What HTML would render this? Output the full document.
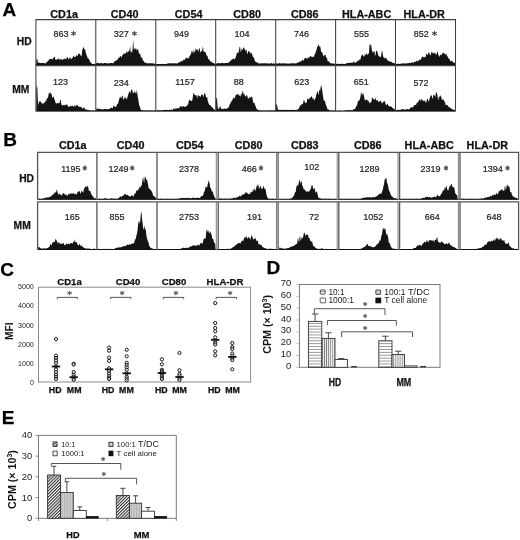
<!DOCTYPE html>
<html><head><meta charset="utf-8"><title>Figure</title>
<style>
html,body{margin:0;padding:0;background:#fff;}
svg{display:block;font-family:"Liberation Sans", sans-serif;}
</style></head>
<body>
<svg width="520" height="540" viewBox="0 0 520 540">
<rect width="520" height="540" fill="#fff"/>
<path d="M36.3 64.8L36.3 60.2L36.8 59.2L37.3 58.4L37.8 62.4L38.3 62.6L38.8 62.7L39.3 62.6L39.8 63.0L40.3 63.3L40.8 62.9L41.3 63.0L41.8 62.8L42.3 62.9L42.8 62.9L43.3 62.8L43.8 62.9L44.3 63.4L44.8 62.9L45.3 63.3L45.8 63.4L46.3 62.7L46.8 61.7L47.3 61.4L47.8 61.6L48.3 61.1L48.8 59.6L49.3 59.5L49.8 58.9L50.3 58.8L50.8 59.3L51.3 58.9L51.8 59.0L52.3 60.0L52.8 58.6L53.3 57.6L53.8 58.2L54.3 56.8L54.8 56.8L55.3 59.3L55.8 59.9L56.3 59.8L56.8 59.6L57.3 59.2L57.8 59.1L58.3 58.2L58.8 58.7L59.3 60.0L59.8 59.4L60.3 59.5L60.8 58.6L61.3 58.9L61.8 59.9L62.3 59.4L62.8 60.0L63.3 59.3L63.8 58.8L64.3 58.8L64.8 58.8L65.3 58.5L65.8 59.5L66.3 58.9L66.8 57.6L67.3 56.7L67.8 57.5L68.3 59.1L68.8 59.6L69.3 58.6L69.8 57.4L70.3 57.2L70.8 58.4L71.3 59.6L71.8 58.4L72.3 57.6L72.8 57.9L73.3 55.9L73.8 56.0L74.3 56.7L74.8 57.2L75.3 56.9L75.8 56.6L76.3 56.0L76.8 54.5L77.3 56.1L77.8 55.8L78.3 53.5L78.8 53.7L79.3 53.8L79.8 54.1L80.3 54.6L80.8 56.1L81.3 56.6L81.8 54.4L82.3 49.6L82.8 48.7L83.3 47.6L83.8 47.0L84.3 49.2L84.8 49.5L85.3 49.8L85.8 52.9L86.3 54.0L86.8 56.0L87.3 56.8L87.8 58.5L88.3 57.9L88.8 59.3L89.3 59.8L89.8 60.9L90.3 62.0L90.8 62.8L91.3 63.3L91.8 63.4L92.3 63.7L92.8 63.9L93.3 64.0L93.8 64.2L94.3 64.0L94.8 63.8L95.3 64.1L95.4 64.8Z" fill="#141414"/>
<path d="M96.2 64.8L96.2 63.0L96.7 63.0L97.2 62.8L97.7 63.1L98.2 63.3L98.7 62.9L99.2 63.5L99.7 63.3L100.2 63.0L100.7 63.5L101.2 62.6L101.7 63.2L102.2 63.3L102.7 63.4L103.2 63.6L103.7 63.2L104.2 62.9L104.7 63.1L105.2 63.0L105.7 63.1L106.2 63.3L106.7 63.1L107.2 63.3L107.7 63.7L108.2 63.4L108.7 63.3L109.2 63.3L109.7 63.3L110.2 63.3L110.7 63.1L111.2 62.7L111.7 63.0L112.2 63.0L112.7 63.3L113.2 63.2L113.7 62.7L114.2 62.1L114.7 61.1L115.2 60.9L115.7 60.4L116.2 60.2L116.7 60.4L117.2 59.7L117.7 59.5L118.2 57.8L118.7 58.0L119.2 57.9L119.7 56.8L120.2 56.1L120.7 56.1L121.2 57.5L121.7 56.9L122.2 55.2L122.7 54.9L123.2 54.4L123.7 52.9L124.2 54.0L124.7 53.3L125.2 53.1L125.7 53.9L126.2 52.4L126.7 51.3L127.2 51.2L127.7 53.2L128.2 51.7L128.7 50.9L129.2 51.0L129.7 49.2L130.2 45.9L130.7 52.5L131.2 52.4L131.7 51.3L132.2 52.6L132.7 46.4L133.2 39.8L133.7 48.4L134.2 50.3L134.7 47.2L135.2 49.0L135.7 48.6L136.2 48.3L136.7 51.1L137.2 49.2L137.7 49.0L138.2 50.0L138.7 52.0L139.2 54.3L139.7 53.8L140.2 53.7L140.7 56.1L141.2 57.9L141.7 57.3L142.2 58.0L142.7 59.6L143.2 60.9L143.7 60.8L144.2 61.9L144.7 62.5L145.2 62.5L145.7 62.9L146.2 62.9L146.7 63.1L147.2 63.6L147.7 63.4L148.2 63.0L148.7 63.2L149.2 63.3L149.7 63.4L150.2 63.3L150.7 63.3L151.2 63.3L151.7 63.2L152.2 63.3L152.7 63.5L153.2 63.2L153.7 63.6L154.2 63.4L154.7 63.8L155.2 63.5L155.4 64.8Z" fill="#141414"/>
<path d="M156.2 64.8L156.2 64.1L156.7 64.1L157.2 64.0L157.7 64.2L158.2 64.1L158.7 64.0L159.2 63.9L159.7 64.3L160.2 64.2L160.7 64.3L161.2 64.2L161.7 64.2L162.2 64.0L162.7 63.8L163.2 64.3L163.7 64.2L164.2 63.9L164.7 64.2L165.2 64.2L165.7 64.2L166.2 63.8L166.7 64.2L167.2 63.2L167.7 63.8L168.2 63.6L168.7 63.1L169.2 63.8L169.7 63.5L170.2 63.2L170.7 63.1L171.2 63.0L171.7 63.5L172.2 63.5L172.7 63.2L173.2 63.2L173.7 63.3L174.2 63.6L174.7 63.3L175.2 63.1L175.7 63.4L176.2 63.6L176.7 63.5L177.2 63.4L177.7 63.1L178.2 62.9L178.7 62.5L179.2 62.3L179.7 62.0L180.2 62.3L180.7 61.8L181.2 60.8L181.7 60.8L182.2 61.7L182.7 61.0L183.2 59.9L183.7 59.7L184.2 60.2L184.7 59.4L185.2 59.0L185.7 58.5L186.2 57.6L186.7 58.2L187.2 57.3L187.7 58.8L188.2 58.4L188.7 58.3L189.2 57.0L189.7 55.7L190.2 55.2L190.7 54.5L191.2 53.1L191.7 50.7L192.2 50.7L192.7 52.8L193.2 53.3L193.7 50.1L194.2 50.8L194.7 52.9L195.2 51.1L195.7 48.3L196.2 48.9L196.7 49.9L197.2 49.1L197.7 50.4L198.2 52.3L198.7 49.6L199.2 47.8L199.7 48.7L200.2 51.5L200.7 52.7L201.2 50.9L201.7 50.9L202.2 51.1L202.7 46.6L203.2 48.2L203.7 52.1L204.2 51.6L204.7 51.9L205.2 51.8L205.7 52.7L206.2 54.5L206.7 55.5L207.2 55.7L207.7 56.7L208.2 58.7L208.7 59.5L209.2 59.5L209.7 59.7L210.2 61.3L210.7 61.8L211.2 61.5L211.7 61.8L212.2 62.2L212.7 62.8L213.2 63.3L213.7 63.2L214.2 62.9L214.7 63.8L215.2 64.1L215.3 64.8Z" fill="#141414"/>
<path d="M216.1 64.8L216.1 63.4L216.6 63.6L217.1 63.2L217.6 63.3L218.1 63.5L218.6 63.1L219.1 62.9L219.6 63.1L220.1 63.3L220.6 63.5L221.1 63.2L221.6 63.1L222.1 62.8L222.6 62.8L223.1 62.9L223.6 63.6L224.1 63.3L224.6 63.3L225.1 63.0L225.6 63.1L226.1 63.1L226.6 63.0L227.1 63.1L227.6 62.8L228.1 63.0L228.6 62.8L229.1 62.1L229.6 61.7L230.1 61.2L230.6 60.4L231.1 60.4L231.6 59.7L232.1 59.0L232.6 59.2L233.1 58.7L233.6 58.5L234.1 59.6L234.6 59.2L235.1 58.3L235.6 57.4L236.1 56.1L236.6 54.1L237.1 53.1L237.6 52.3L238.1 53.1L238.6 52.4L239.1 49.7L239.6 46.8L240.1 46.7L240.6 51.8L241.1 51.4L241.6 48.1L242.1 50.1L242.6 49.9L243.1 47.7L243.6 47.2L244.1 48.2L244.6 48.7L245.1 49.7L245.6 51.2L246.1 49.6L246.6 50.6L247.1 53.4L247.6 53.9L248.1 51.8L248.6 51.1L249.1 51.6L249.6 51.8L250.1 52.0L250.6 53.4L251.1 53.7L251.6 52.8L252.1 54.1L252.6 56.2L253.1 57.4L253.6 57.1L254.1 58.0L254.6 59.9L255.1 61.4L255.6 61.7L256.1 62.1L256.6 62.2L257.1 62.6L257.6 62.7L258.1 63.1L258.6 63.3L259.1 63.3L259.6 63.5L260.1 63.5L260.6 63.4L261.1 63.4L261.6 63.2L262.1 63.0L262.6 63.3L263.1 63.6L263.6 63.4L264.1 63.3L264.6 63.3L265.1 63.2L265.6 63.3L266.1 63.1L266.6 63.7L267.1 63.3L267.6 63.4L268.1 63.2L268.6 63.5L269.1 63.7L269.6 63.4L270.1 63.5L270.6 63.5L271.1 63.0L271.6 63.0L272.1 63.7L272.6 63.8L273.1 63.6L273.6 63.3L274.1 63.6L274.6 63.5L275.1 63.5L275.3 64.8Z" fill="#141414"/>
<path d="M276.1 64.8L276.1 63.1L276.6 63.4L277.1 63.5L277.6 63.6L278.1 63.4L278.6 63.6L279.1 63.3L279.6 63.1L280.1 63.3L280.6 63.5L281.1 63.4L281.6 63.2L282.1 63.5L282.6 63.6L283.1 63.1L283.6 63.4L284.1 63.6L284.6 63.3L285.1 63.5L285.6 63.6L286.1 63.4L286.6 63.2L287.1 63.5L287.6 63.7L288.1 63.7L288.6 63.5L289.1 63.6L289.6 63.7L290.1 63.2L290.6 63.4L291.1 63.3L291.6 63.6L292.1 63.3L292.6 63.0L293.1 63.5L293.6 63.2L294.1 63.4L294.6 63.4L295.1 63.1L295.6 63.5L296.1 63.2L296.6 63.2L297.1 63.1L297.6 62.8L298.1 62.2L298.6 62.4L299.1 62.2L299.6 61.8L300.1 61.5L300.6 61.3L301.1 61.5L301.6 61.3L302.1 60.0L302.6 59.6L303.1 60.5L303.6 60.7L304.1 59.6L304.6 58.3L305.1 58.0L305.6 58.1L306.1 58.5L306.6 58.5L307.1 57.4L307.6 58.5L308.1 59.1L308.6 56.9L309.1 57.4L309.6 57.4L310.1 56.1L310.6 55.8L311.1 56.9L311.6 56.8L312.1 56.4L312.6 56.9L313.1 56.8L313.6 57.3L314.1 56.4L314.6 54.4L315.1 53.9L315.6 52.6L316.1 50.7L316.6 49.6L317.1 47.4L317.6 45.9L318.1 46.2L318.6 44.1L319.1 45.6L319.6 46.9L320.1 46.3L320.6 48.3L321.1 52.1L321.6 52.2L322.1 52.0L322.6 53.4L323.1 55.3L323.6 56.7L324.1 55.3L324.6 55.2L325.1 55.0L325.6 55.1L326.1 57.5L326.6 57.9L327.1 58.3L327.6 60.9L328.1 61.5L328.6 60.8L329.1 62.0L329.6 62.2L330.1 63.1L330.6 63.3L331.1 63.5L331.6 63.5L332.1 63.1L332.6 63.6L333.1 63.7L333.6 63.4L334.1 63.5L334.6 63.7L335.1 63.9L335.2 64.8Z" fill="#141414"/>
<path d="M336.0 64.8L336.0 63.6L336.5 64.1L337.0 64.1L337.5 63.7L338.0 63.9L338.5 63.6L339.0 64.2L339.5 64.0L340.0 63.9L340.5 64.0L341.0 63.5L341.5 63.9L342.0 63.8L342.5 63.4L343.0 64.1L343.5 64.0L344.0 64.1L344.5 64.2L345.0 63.7L345.5 64.0L346.0 63.6L346.5 63.2L347.0 62.9L347.5 63.2L348.0 63.1L348.5 62.9L349.0 62.9L349.5 62.5L350.0 62.9L350.5 62.7L351.0 62.8L351.5 62.6L352.0 62.8L352.5 62.9L353.0 62.0L353.5 61.6L354.0 61.9L354.5 62.4L355.0 62.7L355.5 62.6L356.0 62.5L356.5 61.7L357.0 61.7L357.5 61.1L358.0 60.4L358.5 60.2L359.0 61.0L359.5 59.3L360.0 59.4L360.5 59.4L361.0 56.4L361.5 55.7L362.0 54.9L362.5 54.6L363.0 55.1L363.5 56.2L364.0 57.0L364.5 55.7L365.0 53.4L365.5 55.5L366.0 54.0L366.5 52.9L367.0 54.7L367.5 54.9L368.0 53.6L368.5 53.9L369.0 52.8L369.5 45.5L370.0 43.5L370.5 45.8L371.0 44.1L371.5 47.7L372.0 50.8L372.5 51.4L373.0 52.9L373.5 51.4L374.0 50.9L374.5 51.5L375.0 55.8L375.5 55.1L376.0 51.3L376.5 50.4L377.0 51.3L377.5 52.3L378.0 54.3L378.5 55.8L379.0 56.6L379.5 56.2L380.0 56.7L380.5 57.2L381.0 56.7L381.5 53.0L382.0 50.2L382.5 52.3L383.0 55.7L383.5 57.4L384.0 57.6L384.5 57.9L385.0 58.9L385.5 57.8L386.0 57.6L386.5 58.5L387.0 59.7L387.5 60.5L388.0 60.3L388.5 61.1L389.0 61.2L389.5 61.4L390.0 61.5L390.5 61.4L391.0 62.0L391.5 62.1L392.0 62.3L392.5 62.9L393.0 62.8L393.5 63.1L394.0 63.0L394.5 63.2L395.0 63.8L395.1 64.8Z" fill="#141414"/>
<path d="M395.9 64.8L395.9 63.6L396.4 63.9L396.9 64.1L397.4 63.8L397.9 63.8L398.4 63.9L398.9 63.6L399.4 64.0L399.9 64.0L400.4 64.0L400.9 63.5L401.4 63.7L401.9 63.1L402.4 63.5L402.9 63.5L403.4 63.5L403.9 63.4L404.4 63.2L404.9 63.4L405.4 63.3L405.9 63.5L406.4 63.4L406.9 63.4L407.4 63.3L407.9 63.0L408.4 63.2L408.9 62.9L409.4 62.7L409.9 63.0L410.4 63.2L410.9 62.9L411.4 62.3L411.9 62.5L412.4 62.7L412.9 62.1L413.4 62.7L413.9 62.5L414.4 61.6L414.9 61.9L415.4 62.0L415.9 61.5L416.4 61.0L416.9 60.5L417.4 61.3L417.9 61.4L418.4 60.8L418.9 59.9L419.4 59.6L419.9 59.7L420.4 59.8L420.9 59.9L421.4 58.0L421.9 57.0L422.4 57.2L422.9 56.0L423.4 57.4L423.9 57.2L424.4 56.8L424.9 57.7L425.4 57.3L425.9 55.5L426.4 53.4L426.9 54.0L427.4 55.3L427.9 54.2L428.4 53.3L428.9 52.1L429.4 53.1L429.9 54.6L430.4 55.8L430.9 54.4L431.4 51.7L431.9 52.4L432.4 53.4L432.9 52.1L433.4 53.0L433.9 54.1L434.4 52.7L434.9 52.9L435.4 53.3L435.9 54.6L436.4 54.7L436.9 53.4L437.4 50.9L437.9 52.8L438.4 54.9L438.9 55.5L439.4 57.0L439.9 56.1L440.4 55.0L440.9 54.0L441.4 54.9L441.9 54.9L442.4 52.7L442.9 53.3L443.4 52.7L443.9 52.5L444.4 53.8L444.9 54.1L445.4 55.1L445.9 53.9L446.4 53.3L446.9 55.8L447.4 56.3L447.9 56.9L448.4 58.3L448.9 58.6L449.4 59.0L449.9 59.8L450.4 61.2L450.9 61.2L451.4 60.6L451.9 61.2L452.4 61.3L452.9 61.5L453.4 62.4L453.9 63.0L454.4 62.6L454.9 63.1L455.1 64.8Z" fill="#141414"/>
<path d="M36.3 111.3L36.3 83.0L36.8 88.2L37.3 86.8L37.8 98.9L38.3 105.0L38.8 102.7L39.3 101.2L39.8 101.5L40.3 101.3L40.8 101.6L41.3 102.9L41.8 103.6L42.3 102.6L42.8 104.5L43.3 103.9L43.8 102.5L44.3 102.6L44.8 102.9L45.3 101.6L45.8 100.2L46.3 101.6L46.8 97.8L47.3 97.4L47.8 99.1L48.3 96.2L48.8 93.2L49.3 92.5L49.8 93.4L50.3 93.8L50.8 91.9L51.3 94.0L51.8 95.1L52.3 97.5L52.8 98.2L53.3 96.2L53.8 96.8L54.3 99.4L54.8 99.8L55.3 102.0L55.8 103.2L56.3 103.4L56.8 103.2L57.3 103.3L57.8 103.0L58.3 102.7L58.8 103.4L59.3 103.3L59.8 102.2L60.3 99.6L60.8 99.9L61.3 103.9L61.8 105.1L62.3 105.5L62.8 105.4L63.3 105.0L63.8 105.0L64.3 104.7L64.8 105.5L65.3 105.6L65.8 104.3L66.3 104.3L66.8 105.3L67.3 105.3L67.8 104.9L68.3 106.4L68.8 107.2L69.3 106.2L69.8 106.8L70.3 106.3L70.8 105.3L71.3 106.5L71.8 105.9L72.3 105.5L72.8 106.0L73.3 106.4L73.8 106.8L74.3 105.6L74.8 105.2L75.3 106.0L75.8 106.6L76.3 105.7L76.8 104.6L77.3 104.9L77.8 105.5L78.3 105.9L78.8 107.0L79.3 107.1L79.8 106.4L80.3 106.9L80.8 106.8L81.3 106.9L81.8 107.7L82.3 108.6L82.8 108.4L83.3 108.3L83.8 107.4L84.3 107.4L84.8 108.4L85.3 109.2L85.8 109.4L86.3 109.5L86.8 109.9L87.3 109.8L87.8 109.8L88.3 109.9L88.8 110.3L89.3 110.6L89.8 110.3L90.3 110.6L90.8 110.6L91.3 110.7L91.8 110.8L92.3 110.6L92.8 110.9L93.3 110.6L93.8 110.6L94.3 110.7L94.8 110.4L95.3 110.6L95.4 111.3Z" fill="#141414"/>
<path d="M96.2 111.3L96.2 109.6L96.7 108.8L97.2 108.6L97.7 108.5L98.2 109.1L98.7 108.7L99.2 108.7L99.7 108.8L100.2 109.0L100.7 109.4L101.2 109.3L101.7 109.1L102.2 109.6L102.7 109.4L103.2 109.1L103.7 109.6L104.2 108.9L104.7 109.1L105.2 109.1L105.7 109.0L106.2 109.2L106.7 109.1L107.2 109.6L107.7 109.1L108.2 109.2L108.7 108.7L109.2 109.3L109.7 109.0L110.2 108.3L110.7 108.2L111.2 107.6L111.7 107.7L112.2 108.3L112.7 108.3L113.2 106.6L113.7 105.4L114.2 106.3L114.7 106.6L115.2 106.7L115.7 107.2L116.2 106.6L116.7 105.6L117.2 103.9L117.7 103.8L118.2 103.4L118.7 100.8L119.2 99.3L119.7 97.5L120.2 96.6L120.7 97.5L121.2 98.7L121.7 96.7L122.2 95.6L122.7 95.9L123.2 99.8L123.7 99.4L124.2 98.6L124.7 97.3L125.2 96.8L125.7 98.4L126.2 97.7L126.7 99.7L127.2 98.6L127.7 96.3L128.2 94.9L128.7 93.1L129.2 91.6L129.7 91.6L130.2 93.5L130.7 91.7L131.2 89.0L131.7 90.2L132.2 89.8L132.7 92.4L133.2 93.4L133.7 92.4L134.2 92.4L134.7 91.2L135.2 91.8L135.7 93.2L136.2 93.7L136.7 89.7L137.2 92.4L137.7 96.5L138.2 98.7L138.7 102.4L139.2 105.2L139.7 106.2L140.2 107.9L140.7 109.6L141.2 110.0L141.7 109.7L142.2 110.5L142.7 110.6L143.2 110.4L143.7 110.5L144.2 110.7L144.7 110.7L145.2 110.4L145.7 110.5L146.2 110.7L146.7 110.5L147.2 110.7L147.7 110.6L148.2 110.7L148.7 110.8L149.2 110.8L149.7 110.6L150.2 110.6L150.7 110.6L151.2 110.6L151.7 110.4L152.2 110.7L152.7 110.8L153.2 110.7L153.7 110.4L154.2 110.8L154.7 110.4L155.2 110.4L155.4 111.3Z" fill="#141414"/>
<path d="M156.2 111.3L156.2 110.3L156.7 110.7L157.2 110.5L157.7 110.1L158.2 110.5L158.7 110.7L159.2 110.4L159.7 110.3L160.2 110.5L160.7 110.6L161.2 110.6L161.7 110.6L162.2 110.7L162.7 110.1L163.2 110.2L163.7 109.9L164.2 109.7L164.7 110.0L165.2 109.9L165.7 109.6L166.2 110.0L166.7 110.0L167.2 110.0L167.7 110.0L168.2 109.9L168.7 109.9L169.2 109.8L169.7 109.8L170.2 109.6L170.7 110.1L171.2 109.7L171.7 109.6L172.2 110.1L172.7 109.9L173.2 108.8L173.7 108.2L174.2 108.8L174.7 108.9L175.2 108.8L175.7 108.5L176.2 108.4L176.7 108.6L177.2 108.0L177.7 108.2L178.2 108.4L178.7 108.2L179.2 107.8L179.7 107.6L180.2 106.3L180.7 106.1L181.2 106.4L181.7 106.6L182.2 106.9L182.7 106.2L183.2 106.2L183.7 106.2L184.2 106.7L184.7 106.7L185.2 107.0L185.7 106.8L186.2 106.0L186.7 105.8L187.2 105.9L187.7 104.3L188.2 104.1L188.7 101.0L189.2 99.5L189.7 100.4L190.2 100.1L190.7 101.1L191.2 101.0L191.7 101.0L192.2 100.5L192.7 98.0L193.2 94.0L193.7 92.5L194.2 94.4L194.7 94.9L195.2 95.0L195.7 95.5L196.2 94.8L196.7 96.3L197.2 98.4L197.7 95.8L198.2 95.5L198.7 95.1L199.2 96.2L199.7 96.1L200.2 96.5L200.7 96.9L201.2 94.5L201.7 95.0L202.2 94.6L202.7 94.8L203.2 97.2L203.7 96.0L204.2 92.8L204.7 93.5L205.2 94.3L205.7 95.3L206.2 98.2L206.7 96.9L207.2 96.8L207.7 100.7L208.2 102.3L208.7 103.6L209.2 104.7L209.7 104.9L210.2 105.0L210.7 105.8L211.2 106.5L211.7 106.7L212.2 107.2L212.7 108.1L213.2 108.5L213.7 109.2L214.2 109.6L214.7 109.9L215.2 110.0L215.3 111.3Z" fill="#141414"/>
<path d="M216.1 111.3L216.1 98.4L216.6 97.7L217.1 98.9L217.6 106.1L218.1 109.2L218.6 108.7L219.1 108.1L219.6 107.6L220.1 105.2L220.6 107.7L221.1 109.0L221.6 108.6L222.1 109.0L222.6 108.5L223.1 109.2L223.6 109.1L224.1 108.4L224.6 108.6L225.1 108.5L225.6 108.9L226.1 108.9L226.6 108.7L227.1 108.5L227.6 108.1L228.1 107.7L228.6 107.6L229.1 106.2L229.6 104.4L230.1 103.7L230.6 103.1L231.1 101.8L231.6 101.3L232.1 100.5L232.6 99.7L233.1 98.0L233.6 97.8L234.1 97.4L234.6 99.1L235.1 97.8L235.6 94.8L236.1 94.8L236.6 94.9L237.1 94.7L237.6 93.5L238.1 94.6L238.6 94.6L239.1 95.7L239.6 95.8L240.1 93.9L240.6 97.0L241.1 95.6L241.6 93.8L242.1 93.2L242.6 90.4L243.1 92.2L243.6 94.6L244.1 93.3L244.6 94.9L245.1 96.5L245.6 96.5L246.1 95.8L246.6 95.0L247.1 95.5L247.6 97.2L248.1 99.0L248.6 98.3L249.1 98.1L249.6 97.2L250.1 97.6L250.6 97.8L251.1 96.2L251.6 97.0L252.1 96.5L252.6 98.9L253.1 101.9L253.6 103.3L254.1 102.4L254.6 103.3L255.1 105.1L255.6 106.1L256.1 107.7L256.6 108.8L257.1 109.2L257.6 109.8L258.1 110.0L258.6 110.3L259.1 110.3L259.6 110.5L260.1 110.7L260.6 110.6L261.1 110.5L261.6 110.6L262.1 110.7L262.6 110.7L263.1 110.8L263.6 110.6L264.1 110.7L264.6 110.6L265.1 110.8L265.6 110.7L266.1 110.4L266.6 110.7L267.1 110.8L267.6 110.8L268.1 110.7L268.6 110.6L269.1 110.6L269.6 110.5L270.1 110.4L270.6 110.0L271.1 110.7L271.6 110.7L272.1 110.7L272.6 110.6L273.1 110.6L273.6 110.6L274.1 110.3L274.6 110.6L275.1 110.1L275.3 111.3Z" fill="#141414"/>
<path d="M276.1 111.3L276.1 104.1L276.6 104.3L277.1 105.2L277.6 108.1L278.1 109.6L278.6 109.9L279.1 109.8L279.6 109.9L280.1 109.9L280.6 109.8L281.1 110.1L281.6 110.1L282.1 110.0L282.6 109.6L283.1 110.3L283.6 110.2L284.1 109.5L284.6 109.9L285.1 110.0L285.6 110.1L286.1 109.7L286.6 109.9L287.1 109.6L287.6 109.9L288.1 110.0L288.6 110.0L289.1 110.1L289.6 110.0L290.1 109.8L290.6 109.7L291.1 110.0L291.6 110.0L292.1 110.0L292.6 109.9L293.1 109.6L293.6 109.9L294.1 110.0L294.6 110.0L295.1 110.2L295.6 109.9L296.1 109.9L296.6 110.0L297.1 109.5L297.6 109.5L298.1 109.5L298.6 108.8L299.1 107.8L299.6 106.8L300.1 105.2L300.6 105.0L301.1 105.9L301.6 104.1L302.1 104.3L302.6 104.0L303.1 103.3L303.6 100.5L304.1 100.1L304.6 101.5L305.1 102.4L305.6 103.2L306.1 102.8L306.6 102.6L307.1 100.1L307.6 98.0L308.1 98.7L308.6 99.6L309.1 99.3L309.6 98.2L310.1 97.2L310.6 97.8L311.1 95.6L311.6 97.0L312.1 97.1L312.6 98.5L313.1 100.0L313.6 97.9L314.1 98.8L314.6 100.6L315.1 98.9L315.6 97.9L316.1 95.6L316.6 93.5L317.1 91.7L317.6 91.1L318.1 93.5L318.6 95.2L319.1 90.3L319.6 90.1L320.1 91.2L320.6 87.2L321.1 84.9L321.6 86.9L322.1 89.1L322.6 93.8L323.1 96.4L323.6 100.0L324.1 100.7L324.6 100.6L325.1 101.3L325.6 103.9L326.1 105.6L326.6 106.2L327.1 108.0L327.6 109.4L328.1 109.3L328.6 109.5L329.1 109.9L329.6 110.5L330.1 110.4L330.6 110.7L331.1 110.4L331.6 110.8L332.1 110.7L332.6 110.6L333.1 110.5L333.6 110.8L334.1 110.8L334.6 110.8L335.1 110.4L335.2 111.3Z" fill="#141414"/>
<path d="M336.0 111.3L336.0 110.8L336.5 111.0L337.0 111.0L337.5 111.0L338.0 110.9L338.5 110.5L339.0 110.4L339.5 110.8L340.0 110.7L340.5 110.8L341.0 110.9L341.5 110.9L342.0 110.9L342.5 110.9L343.0 111.0L343.5 110.9L344.0 110.8L344.5 110.6L345.0 110.8L345.5 110.7L346.0 110.6L346.5 110.1L347.0 110.4L347.5 110.0L348.0 110.0L348.5 110.4L349.0 110.3L349.5 110.1L350.0 110.5L350.5 110.4L351.0 110.1L351.5 110.2L352.0 110.2L352.5 110.2L353.0 109.9L353.5 109.3L354.0 108.9L354.5 109.0L355.0 108.9L355.5 108.1L356.0 106.7L356.5 105.8L357.0 105.2L357.5 103.3L358.0 101.6L358.5 100.7L359.0 100.5L359.5 100.0L360.0 99.2L360.5 96.2L361.0 92.4L361.5 93.0L362.0 95.7L362.5 94.2L363.0 92.3L363.5 94.6L364.0 95.8L364.5 99.3L365.0 100.7L365.5 99.5L366.0 100.0L366.5 99.2L367.0 100.1L367.5 100.5L368.0 100.5L368.5 100.9L369.0 101.8L369.5 103.6L370.0 103.1L370.5 102.0L371.0 102.7L371.5 101.6L372.0 97.8L372.5 97.2L373.0 99.3L373.5 99.3L374.0 98.3L374.5 100.4L375.0 99.0L375.5 97.5L376.0 99.9L376.5 100.8L377.0 99.9L377.5 100.1L378.0 101.1L378.5 102.4L379.0 100.9L379.5 101.4L380.0 101.4L380.5 100.6L381.0 100.7L381.5 103.1L382.0 103.5L382.5 103.1L383.0 101.1L383.5 101.8L384.0 102.7L384.5 100.8L385.0 101.1L385.5 103.9L386.0 105.0L386.5 105.2L387.0 104.2L387.5 103.6L388.0 104.7L388.5 105.9L389.0 106.0L389.5 106.4L390.0 106.5L390.5 106.5L391.0 106.4L391.5 106.7L392.0 107.3L392.5 108.0L393.0 108.2L393.5 108.7L394.0 109.0L394.5 109.1L395.0 109.7L395.1 111.3Z" fill="#141414"/>
<path d="M395.9 111.3L395.9 110.0L396.4 110.3L396.9 110.2L397.4 110.1L397.9 109.7L398.4 110.1L398.9 109.6L399.4 110.0L399.9 110.0L400.4 109.9L400.9 109.5L401.4 109.1L401.9 109.4L402.4 109.1L402.9 109.3L403.4 109.3L403.9 109.5L404.4 109.7L404.9 109.4L405.4 109.3L405.9 109.6L406.4 109.6L406.9 109.2L407.4 109.1L407.9 109.1L408.4 109.4L408.9 109.4L409.4 108.7L409.9 108.7L410.4 108.2L410.9 107.0L411.4 107.2L411.9 107.1L412.4 107.4L412.9 107.6L413.4 106.8L413.9 105.6L414.4 104.9L414.9 105.0L415.4 104.7L415.9 105.3L416.4 103.9L416.9 102.7L417.4 102.4L417.9 102.0L418.4 102.3L418.9 99.4L419.4 99.7L419.9 99.9L420.4 99.3L420.9 101.4L421.4 99.2L421.9 99.0L422.4 99.9L422.9 100.7L423.4 101.4L423.9 100.1L424.4 101.0L424.9 100.4L425.4 101.6L425.9 103.1L426.4 102.1L426.9 99.3L427.4 99.0L427.9 98.5L428.4 101.2L428.9 101.6L429.4 99.5L429.9 97.8L430.4 96.2L430.9 95.3L431.4 95.2L431.9 96.3L432.4 99.2L432.9 97.5L433.4 95.1L433.9 94.8L434.4 95.0L434.9 96.3L435.4 97.1L435.9 93.1L436.4 91.5L436.9 93.5L437.4 94.7L437.9 99.1L438.4 100.3L438.9 96.2L439.4 96.3L439.9 97.6L440.4 96.0L440.9 95.1L441.4 97.4L441.9 100.0L442.4 99.6L442.9 99.5L443.4 99.2L443.9 100.7L444.4 101.8L444.9 101.6L445.4 104.0L445.9 105.5L446.4 104.6L446.9 105.4L447.4 105.0L447.9 105.6L448.4 106.7L448.9 107.0L449.4 107.5L449.9 107.6L450.4 107.8L450.9 108.4L451.4 108.8L451.9 108.9L452.4 109.3L452.9 109.5L453.4 109.4L453.9 109.9L454.4 110.0L454.9 110.2L455.1 111.3Z" fill="#141414"/>
<path d="M35.9 64.5H455.5 M35.9 111.0H455.5" stroke="#111" stroke-width="1.2" fill="none"/>
<path d="M35.9 19.1V111.6M95.8 19.1V111.6M155.8 19.1V111.6M215.7 19.1V111.6M275.7 19.1V111.6M335.6 19.1V111.6M395.5 19.1V111.6M455.5 19.1V111.6M35.4 19.6H456.0M35.4 65.6H456.0" stroke="#404040" stroke-width="1.05" fill="none"/>
<text x="50.3" y="17.6" font-size="10.80" font-weight="bold" text-anchor="start" fill="#111" stroke="#111" stroke-width="0.25">CD1a</text>
<text x="110.8" y="17.6" font-size="10.80" font-weight="bold" text-anchor="start" fill="#111" stroke="#111" stroke-width="0.25">CD40</text>
<text x="174.8" y="17.6" font-size="10.80" font-weight="bold" text-anchor="start" fill="#111" stroke="#111" stroke-width="0.25">CD54</text>
<text x="233.3" y="17.6" font-size="10.80" font-weight="bold" text-anchor="start" fill="#111" stroke="#111" stroke-width="0.25">CD80</text>
<text x="291.0" y="17.6" font-size="10.80" font-weight="bold" text-anchor="start" fill="#111" stroke="#111" stroke-width="0.25">CD86</text>
<text x="342.0" y="17.6" font-size="10.80" font-weight="bold" text-anchor="start" fill="#111" stroke="#111" stroke-width="0.25">HLA-ABC</text>
<text x="403.5" y="17.6" font-size="10.80" font-weight="bold" text-anchor="start" fill="#111" stroke="#111" stroke-width="0.25">HLA-DR</text>
<text x="2.6" y="16.2" font-size="19.00" font-weight="bold" text-anchor="start" fill="#000" stroke="#000" stroke-width="0.25">A</text>
<text x="16.8" y="44.8" font-size="10.30" font-weight="bold" text-anchor="start" fill="#111" stroke="#111" stroke-width="0.25">HD</text>
<text x="12.2" y="92.8" font-size="10.30" font-weight="bold" text-anchor="start" fill="#111" stroke="#111" stroke-width="0.25">MM</text>
<text x="53.4" y="37.3" font-size="9.00" font-weight="normal" text-anchor="start" fill="#222" stroke="#222" stroke-width="0.2">863</text>
<text x="73.5" y="39.2" font-family="'DejaVu Sans', sans-serif" font-size="11.0" text-anchor="middle" fill="#333" stroke="#333" stroke-width="0.25">*</text>
<text x="113.8" y="37.3" font-size="9.00" font-weight="normal" text-anchor="start" fill="#222" stroke="#222" stroke-width="0.2">327</text>
<text x="134.6" y="39.2" font-family="'DejaVu Sans', sans-serif" font-size="11.0" text-anchor="middle" fill="#333" stroke="#333" stroke-width="0.25">*</text>
<text x="174.0" y="37.3" font-size="9.00" font-weight="normal" text-anchor="start" fill="#222" stroke="#222" stroke-width="0.2">949</text>
<text x="234.6" y="37.3" font-size="9.00" font-weight="normal" text-anchor="start" fill="#222" stroke="#222" stroke-width="0.2">104</text>
<text x="294.0" y="37.3" font-size="9.00" font-weight="normal" text-anchor="start" fill="#222" stroke="#222" stroke-width="0.2">746</text>
<text x="354.0" y="37.3" font-size="9.00" font-weight="normal" text-anchor="start" fill="#222" stroke="#222" stroke-width="0.2">555</text>
<text x="413.8" y="37.3" font-size="9.00" font-weight="normal" text-anchor="start" fill="#222" stroke="#222" stroke-width="0.2">852</text>
<text x="434.6" y="39.2" font-family="'DejaVu Sans', sans-serif" font-size="11.0" text-anchor="middle" fill="#333" stroke="#333" stroke-width="0.25">*</text>
<text x="52.9" y="85.0" font-size="9.00" font-weight="normal" text-anchor="start" fill="#222" stroke="#222" stroke-width="0.2">123</text>
<text x="113.8" y="86.3" font-size="9.00" font-weight="normal" text-anchor="start" fill="#222" stroke="#222" stroke-width="0.2">234</text>
<text x="175.3" y="85.0" font-size="9.00" font-weight="normal" text-anchor="start" fill="#222" stroke="#222" stroke-width="0.2">1157</text>
<text x="233.8" y="85.0" font-size="9.00" font-weight="normal" text-anchor="start" fill="#222" stroke="#222" stroke-width="0.2">88</text>
<text x="294.2" y="85.0" font-size="9.00" font-weight="normal" text-anchor="start" fill="#222" stroke="#222" stroke-width="0.2">623</text>
<text x="353.8" y="85.0" font-size="9.00" font-weight="normal" text-anchor="start" fill="#222" stroke="#222" stroke-width="0.2">651</text>
<text x="413.4" y="86.3" font-size="9.00" font-weight="normal" text-anchor="start" fill="#222" stroke="#222" stroke-width="0.2">572</text>
<path d="M38.3 199.6L38.3 199.1L38.8 198.7L39.3 198.9L39.8 198.8L40.3 199.0L40.8 198.9L41.3 198.7L41.8 198.7L42.3 198.9L42.8 198.7L43.3 198.4L43.8 198.3L44.3 197.9L44.8 198.1L45.3 197.7L45.8 197.8L46.3 197.5L46.8 197.6L47.3 197.5L47.8 197.5L48.3 197.4L48.8 197.2L49.3 197.1L49.8 197.1L50.3 196.5L50.8 196.4L51.3 196.4L51.8 195.0L52.3 194.8L52.8 195.3L53.3 194.3L53.8 194.1L54.3 193.4L54.8 191.9L55.3 191.8L55.8 193.6L56.3 191.2L56.8 189.2L57.3 191.0L57.8 193.4L58.3 194.4L58.8 194.4L59.3 193.5L59.8 193.8L60.3 194.7L60.8 194.4L61.3 195.6L61.8 195.3L62.3 194.8L62.8 193.3L63.3 193.0L63.8 193.4L64.3 193.5L64.8 194.9L65.3 194.7L65.8 194.2L66.3 194.6L66.8 195.5L67.3 195.7L67.8 195.4L68.3 194.6L68.8 193.2L69.3 193.6L69.8 194.4L70.3 194.1L70.8 193.3L71.3 193.1L71.8 194.1L72.3 193.9L72.8 193.0L73.3 193.3L73.8 193.6L74.3 194.3L74.8 194.1L75.3 193.3L75.8 194.2L76.3 194.8L76.8 193.9L77.3 192.8L77.8 191.6L78.3 192.3L78.8 190.9L79.3 191.0L79.8 191.6L80.3 193.4L80.8 193.4L81.3 190.9L81.8 190.7L82.3 191.4L82.8 192.4L83.3 192.3L83.8 189.3L84.3 188.3L84.8 187.5L85.3 187.2L85.8 186.1L86.3 186.6L86.8 186.7L87.3 186.5L87.8 186.0L88.3 187.4L88.8 190.5L89.3 191.0L89.8 190.9L90.3 191.0L90.8 193.1L91.3 194.2L91.8 195.0L92.3 195.7L92.8 196.4L93.3 196.6L93.8 197.7L94.3 198.2L94.8 198.4L95.3 198.2L95.8 198.3L96.2 199.6Z" fill="#141414"/>
<path d="M97.6 199.6L97.6 198.8L98.1 198.9L98.6 199.0L99.1 198.7L99.6 198.7L100.1 199.0L100.6 198.9L101.1 199.0L101.6 198.7L102.1 198.9L102.6 199.1L103.1 198.7L103.6 198.9L104.1 198.8L104.6 198.5L105.1 197.5L105.6 198.2L106.1 198.5L106.6 198.7L107.1 198.9L107.6 199.0L108.1 199.0L108.6 198.9L109.1 198.9L109.6 198.9L110.1 198.9L110.6 198.5L111.1 198.1L111.6 198.5L112.1 198.8L112.6 198.7L113.1 198.6L113.6 198.6L114.1 198.7L114.6 198.7L115.1 198.7L115.6 198.9L116.1 198.6L116.6 198.9L117.1 198.9L117.6 198.5L118.1 198.4L118.6 198.3L119.1 197.7L119.6 197.1L120.1 196.3L120.6 196.5L121.1 196.7L121.6 196.9L122.1 196.3L122.6 195.7L123.1 195.5L123.6 195.7L124.1 194.8L124.6 193.8L125.1 194.3L125.6 194.1L126.1 194.8L126.6 195.2L127.1 194.9L127.6 194.7L128.1 195.2L128.6 195.8L129.1 196.1L129.6 196.5L130.1 196.6L130.6 196.4L131.1 195.6L131.6 195.6L132.1 195.4L132.6 195.6L133.1 196.5L133.6 196.4L134.1 194.7L134.6 193.5L135.1 193.5L135.6 193.6L136.1 191.6L136.6 190.1L137.1 190.9L137.6 190.5L138.1 189.7L138.6 189.3L139.1 188.8L139.6 186.6L140.1 186.5L140.6 187.8L141.1 185.4L141.6 186.1L142.1 182.6L142.6 178.9L143.1 177.1L143.6 180.3L144.1 183.2L144.6 178.1L145.1 176.1L145.6 178.0L146.1 178.8L146.6 180.0L147.1 179.9L147.6 182.2L148.1 184.4L148.6 187.9L149.1 188.6L149.6 188.5L150.1 189.7L150.6 189.7L151.1 190.6L151.6 191.2L152.1 192.3L152.6 193.5L153.1 195.5L153.6 196.1L154.1 196.5L154.6 196.3L155.1 196.8L155.6 197.9L156.1 198.0L156.3 199.6Z" fill="#141414"/>
<path d="M157.7 199.6L157.7 198.8L158.2 199.1L158.7 198.8L159.2 199.0L159.7 199.1L160.2 198.8L160.7 198.8L161.2 198.9L161.7 198.7L162.2 199.0L162.7 199.1L163.2 198.8L163.7 199.1L164.2 198.9L164.7 199.1L165.2 199.2L165.7 199.2L166.2 199.2L166.7 199.1L167.2 198.8L167.7 198.8L168.2 198.9L168.7 199.0L169.2 199.0L169.7 198.7L170.2 199.2L170.7 198.9L171.2 199.1L171.7 199.1L172.2 199.0L172.7 199.2L173.2 199.1L173.7 199.1L174.2 199.0L174.7 199.1L175.2 198.9L175.7 199.0L176.2 198.7L176.7 199.1L177.2 199.0L177.7 199.1L178.2 199.1L178.7 198.7L179.2 198.3L179.7 198.4L180.2 198.2L180.7 198.2L181.2 198.1L181.7 198.0L182.2 198.2L182.7 197.9L183.2 198.0L183.7 198.0L184.2 197.9L184.7 197.9L185.2 197.9L185.7 197.9L186.2 197.8L186.7 198.1L187.2 197.8L187.7 197.9L188.2 198.2L188.7 198.0L189.2 197.7L189.7 197.8L190.2 198.4L190.7 198.4L191.2 198.2L191.7 198.1L192.2 197.8L192.7 197.8L193.2 197.6L193.7 197.8L194.2 197.8L194.7 198.0L195.2 198.0L195.7 198.2L196.2 198.1L196.7 197.7L197.2 197.7L197.7 197.4L198.2 197.8L198.7 197.9L199.2 198.0L199.7 198.0L200.2 197.6L200.7 196.9L201.2 196.2L201.7 196.0L202.2 196.0L202.7 195.8L203.2 195.3L203.7 193.1L204.2 191.5L204.7 191.6L205.2 188.7L205.7 186.3L206.2 186.5L206.7 188.0L207.2 186.9L207.7 184.3L208.2 181.9L208.7 180.5L209.2 182.5L209.7 184.1L210.2 187.4L210.7 187.9L211.2 189.0L211.7 191.3L212.2 191.5L212.7 191.6L213.2 193.3L213.7 195.1L214.2 196.4L214.7 197.3L215.2 197.8L215.6 199.6Z" fill="#141414"/>
<path d="M218.9 199.6L218.9 198.5L219.4 198.6L219.9 198.7L220.4 198.6L220.9 198.6L221.4 198.9L221.9 198.6L222.4 198.8L222.9 198.8L223.4 198.9L223.9 198.9L224.4 198.8L224.9 198.6L225.4 198.9L225.9 198.7L226.4 198.8L226.9 199.0L227.4 198.9L227.9 198.9L228.4 198.4L228.9 198.6L229.4 198.9L229.9 198.7L230.4 198.6L230.9 199.0L231.4 198.4L231.9 198.6L232.4 198.5L232.9 198.2L233.4 197.8L233.9 197.8L234.4 197.9L234.9 197.8L235.4 197.8L235.9 197.9L236.4 197.4L236.9 197.6L237.4 197.2L237.9 196.5L238.4 196.9L238.9 196.6L239.4 195.6L239.9 196.0L240.4 196.1L240.9 196.7L241.4 195.9L241.9 194.4L242.4 194.4L242.9 194.9L243.4 194.4L243.9 193.7L244.4 193.7L244.9 194.2L245.4 192.7L245.9 191.8L246.4 192.6L246.9 193.0L247.4 193.0L247.9 193.8L248.4 194.6L248.9 193.8L249.4 193.8L249.9 194.2L250.4 193.0L250.9 191.8L251.4 192.0L251.9 192.5L252.4 191.8L252.9 189.3L253.4 189.7L253.9 191.4L254.4 187.7L254.9 189.4L255.4 190.7L255.9 189.9L256.4 186.8L256.9 185.8L257.4 185.9L257.9 183.9L258.4 185.1L258.9 188.2L259.4 188.6L259.9 186.9L260.4 185.7L260.9 186.7L261.4 188.4L261.9 189.5L262.4 188.5L262.9 187.7L263.4 186.0L263.9 186.4L264.4 188.5L264.9 189.1L265.4 188.7L265.9 191.1L266.4 194.3L266.9 195.9L267.4 197.8L267.9 198.1L268.4 198.7L268.9 198.7L269.4 198.7L269.9 198.9L270.4 199.0L270.9 199.0L271.4 199.0L271.9 199.1L272.4 198.8L272.9 198.8L273.4 199.0L273.9 198.8L274.4 199.0L274.9 199.0L275.4 199.0L275.9 198.8L276.2 199.6Z" fill="#141414"/>
<path d="M279.2 199.6L279.2 199.1L279.7 199.2L280.2 198.9L280.7 199.2L281.2 199.1L281.7 199.1L282.2 199.3L282.7 199.3L283.2 199.4L283.7 199.3L284.2 199.0L284.7 199.2L285.2 199.0L285.7 199.2L286.2 199.3L286.7 199.0L287.2 199.0L287.7 199.2L288.2 199.2L288.7 199.1L289.2 199.2L289.7 199.3L290.2 199.1L290.7 198.5L291.2 198.6L291.7 198.2L292.2 198.1L292.7 197.0L293.2 196.3L293.7 196.2L294.2 195.2L294.7 193.2L295.2 192.1L295.7 192.1L296.2 188.0L296.7 186.1L297.2 184.3L297.7 185.9L298.2 185.4L298.7 183.2L299.2 180.4L299.7 180.1L300.2 181.7L300.7 183.9L301.2 181.3L301.7 181.6L302.2 185.7L302.7 185.9L303.2 187.7L303.7 189.3L304.2 189.2L304.7 189.4L305.2 190.6L305.7 191.0L306.2 191.5L306.7 191.4L307.2 191.8L307.7 191.3L308.2 190.9L308.7 191.9L309.2 191.6L309.7 190.5L310.2 189.3L310.7 189.6L311.2 187.1L311.7 185.2L312.2 185.1L312.7 186.2L313.2 189.1L313.7 189.2L314.2 187.9L314.7 188.2L315.2 191.3L315.7 193.1L316.2 191.6L316.7 191.6L317.2 192.6L317.7 195.0L318.2 196.9L318.7 197.9L319.2 197.7L319.7 198.3L320.2 198.7L320.7 198.0L321.2 199.1L321.7 199.0L322.2 198.4L322.7 198.9L323.2 198.7L323.7 199.0L324.2 199.2L324.7 198.9L325.2 198.9L325.7 198.3L326.2 198.8L326.7 199.2L327.2 199.1L327.7 198.9L328.2 198.3L328.7 199.2L329.2 198.9L329.7 199.1L330.2 199.2L330.7 199.2L331.2 198.7L331.7 199.2L332.2 199.2L332.7 199.1L333.2 199.3L333.7 199.3L334.2 198.9L334.7 199.2L335.2 199.1L335.7 199.1L336.2 199.0L336.5 199.6Z" fill="#141414"/>
<path d="M339.5 199.6L339.5 199.1L340.0 199.1L340.5 199.1L341.0 198.8L341.5 199.1L342.0 199.0L342.5 199.2L343.0 199.2L343.5 199.0L344.0 198.9L344.5 199.0L345.0 198.7L345.5 199.2L346.0 199.2L346.5 198.9L347.0 199.2L347.5 199.2L348.0 198.9L348.5 198.9L349.0 199.0L349.5 199.1L350.0 198.9L350.5 198.8L351.0 198.9L351.5 199.3L352.0 199.2L352.5 199.2L353.0 199.1L353.5 198.9L354.0 199.2L354.5 199.2L355.0 199.2L355.5 199.3L356.0 199.2L356.5 199.1L357.0 199.2L357.5 198.8L358.0 199.0L358.5 199.1L359.0 198.9L359.5 199.1L360.0 198.9L360.5 199.1L361.0 198.8L361.5 198.3L362.0 198.4L362.5 198.1L363.0 198.0L363.5 197.8L364.0 197.7L364.5 197.8L365.0 197.5L365.5 197.4L366.0 197.7L366.5 197.1L367.0 197.0L367.5 197.4L368.0 197.4L368.5 197.7L369.0 196.9L369.5 196.9L370.0 197.2L370.5 197.4L371.0 197.5L371.5 197.6L372.0 197.4L372.5 197.5L373.0 197.1L373.5 197.1L374.0 197.2L374.5 197.5L375.0 197.1L375.5 196.7L376.0 196.6L376.5 196.5L377.0 196.1L377.5 195.7L378.0 194.8L378.5 194.8L379.0 194.4L379.5 193.8L380.0 193.5L380.5 193.4L381.0 193.9L381.5 193.6L382.0 191.7L382.5 190.4L383.0 188.8L383.5 185.7L384.0 184.2L384.5 180.8L385.0 177.8L385.5 179.7L386.0 178.2L386.5 178.0L387.0 183.3L387.5 183.4L388.0 185.4L388.5 188.2L389.0 190.7L389.5 191.3L390.0 192.2L390.5 194.2L391.0 195.2L391.5 195.9L392.0 196.3L392.5 196.7L393.0 197.3L393.5 198.1L394.0 198.2L394.5 198.1L395.0 198.1L395.5 198.4L396.0 198.4L396.5 198.8L397.0 198.5L397.3 199.6Z" fill="#141414"/>
<path d="M400.3 199.6L400.3 199.0L400.8 198.8L401.3 199.1L401.8 198.9L402.3 198.9L402.8 199.0L403.3 198.7L403.8 198.9L404.3 199.3L404.8 199.3L405.3 199.0L405.8 198.7L406.3 198.9L406.8 198.9L407.3 199.3L407.8 198.9L408.3 199.2L408.8 199.0L409.3 198.8L409.8 199.2L410.3 199.1L410.8 199.0L411.3 199.1L411.8 199.1L412.3 198.9L412.8 198.9L413.3 198.9L413.8 198.9L414.3 198.8L414.8 199.2L415.3 199.1L415.8 199.0L416.3 199.0L416.8 198.8L417.3 198.8L417.8 199.1L418.3 198.9L418.8 199.0L419.3 199.0L419.8 198.9L420.3 199.0L420.8 198.9L421.3 198.6L421.8 198.4L422.3 197.8L422.8 197.9L423.3 197.7L423.8 198.0L424.3 198.1L424.8 197.8L425.3 197.4L425.8 196.8L426.3 196.9L426.8 196.9L427.3 196.6L427.8 196.9L428.3 197.5L428.8 197.3L429.3 196.8L429.8 197.1L430.3 197.3L430.8 197.9L431.3 197.4L431.8 197.2L432.3 197.5L432.8 197.3L433.3 196.7L433.8 196.8L434.3 196.9L434.8 196.6L435.3 197.2L435.8 196.9L436.3 196.7L436.8 195.7L437.3 194.6L437.8 195.3L438.3 196.1L438.8 196.0L439.3 196.5L439.8 195.9L440.3 195.6L440.8 195.1L441.3 193.4L441.8 193.5L442.3 192.1L442.8 190.8L443.3 190.5L443.8 190.2L444.3 189.9L444.8 186.9L445.3 187.9L445.8 187.9L446.3 185.1L446.8 187.4L447.3 189.8L447.8 190.2L448.3 190.5L448.8 189.0L449.3 186.6L449.8 186.3L450.3 186.2L450.8 185.0L451.3 183.9L451.8 184.1L452.3 186.4L452.8 187.3L453.3 187.4L453.8 187.0L454.3 187.8L454.8 190.6L455.3 193.7L455.8 193.4L456.3 194.7L456.8 195.1L457.3 195.7L457.7 199.6Z" fill="#141414"/>
<path d="M460.7 199.6L460.7 199.1L461.2 199.0L461.7 199.2L462.2 199.2L462.7 198.6L463.2 198.6L463.7 199.0L464.2 199.2L464.7 198.9L465.2 199.2L465.7 199.2L466.2 199.2L466.7 199.1L467.2 199.2L467.7 199.0L468.2 198.9L468.7 199.2L469.2 198.8L469.7 198.8L470.2 199.1L470.7 199.0L471.2 199.0L471.7 199.2L472.2 199.2L472.7 198.8L473.2 199.2L473.7 198.8L474.2 199.2L474.7 199.2L475.2 199.1L475.7 199.0L476.2 199.2L476.7 199.0L477.2 199.2L477.7 198.9L478.2 199.2L478.7 198.8L479.2 199.0L479.7 199.1L480.2 198.5L480.7 199.1L481.2 198.7L481.7 198.4L482.2 198.8L482.7 198.6L483.2 198.4L483.7 198.4L484.2 198.0L484.7 197.9L485.2 197.6L485.7 197.6L486.2 197.5L486.7 197.8L487.2 197.1L487.7 197.1L488.2 197.2L488.7 196.8L489.2 196.8L489.7 196.4L490.2 196.3L490.7 196.0L491.2 196.5L491.7 196.1L492.2 195.1L492.7 194.9L493.2 195.1L493.7 195.4L494.2 195.0L494.7 193.5L495.2 195.0L495.7 194.9L496.2 193.0L496.7 193.3L497.2 194.5L497.7 194.2L498.2 193.6L498.7 191.5L499.2 190.8L499.7 190.8L500.2 191.3L500.7 189.9L501.2 189.6L501.7 189.6L502.2 189.4L502.7 190.3L503.2 190.2L503.7 190.9L504.2 190.9L504.7 186.4L505.2 185.9L505.7 189.9L506.2 189.1L506.7 185.9L507.2 183.9L507.7 186.1L508.2 186.3L508.7 186.1L509.2 186.7L509.7 188.1L510.2 191.9L510.7 192.2L511.2 191.7L511.7 193.9L512.2 195.3L512.7 196.0L513.2 196.5L513.7 196.7L514.2 197.2L514.7 197.0L515.2 197.6L515.7 198.0L516.2 198.0L516.7 198.0L517.2 198.6L517.7 198.7L517.9 199.6Z" fill="#141414"/>
<path d="M38.3 249.8L38.3 246.6L38.8 246.7L39.3 247.0L39.8 247.8L40.3 248.2L40.8 248.3L41.3 248.5L41.8 248.5L42.3 248.5L42.8 248.7L43.3 248.5L43.8 248.2L44.3 248.3L44.8 248.4L45.3 248.4L45.8 248.5L46.3 248.2L46.8 248.5L47.3 248.1L47.8 247.9L48.3 247.7L48.8 246.9L49.3 246.9L49.8 245.9L50.3 243.6L50.8 244.6L51.3 245.3L51.8 244.7L52.3 242.7L52.8 242.6L53.3 242.5L53.8 241.6L54.3 241.7L54.8 242.5L55.3 240.1L55.8 238.4L56.3 240.1L56.8 240.9L57.3 241.9L57.8 243.7L58.3 243.1L58.8 241.8L59.3 242.5L59.8 243.7L60.3 244.5L60.8 243.3L61.3 243.4L61.8 243.4L62.3 243.8L62.8 244.1L63.3 242.8L63.8 243.2L64.3 244.9L64.8 245.0L65.3 245.3L65.8 244.6L66.3 243.3L66.8 243.6L67.3 244.4L67.8 243.8L68.3 243.6L68.8 244.2L69.3 243.5L69.8 244.3L70.3 243.6L70.8 243.1L71.3 242.9L71.8 243.2L72.3 244.1L72.8 242.8L73.3 241.6L73.8 242.2L74.3 241.7L74.8 239.2L75.3 241.5L75.8 243.0L76.3 242.1L76.8 242.2L77.3 243.8L77.8 244.9L78.3 245.2L78.8 245.5L79.3 243.9L79.8 244.0L80.3 245.3L80.8 245.9L81.3 245.1L81.8 246.0L82.3 246.9L82.8 246.6L83.3 247.1L83.8 247.9L84.3 247.9L84.8 248.0L85.3 248.2L85.8 248.5L86.3 248.7L86.8 248.8L87.3 248.4L87.8 248.2L88.3 248.8L88.8 248.5L89.3 248.4L89.8 248.6L90.3 248.9L90.8 248.9L91.3 249.0L91.8 248.9L92.3 249.0L92.8 249.0L93.3 249.1L93.8 248.5L94.3 248.6L94.8 248.7L95.3 249.1L95.8 249.2L96.2 249.8Z" fill="#141414"/>
<path d="M97.6 249.8L97.6 249.1L98.1 249.2L98.6 249.0L99.1 248.8L99.6 249.2L100.1 248.9L100.6 249.2L101.1 248.9L101.6 249.1L102.1 249.0L102.6 249.2L103.1 249.3L103.6 249.3L104.1 249.0L104.6 248.7L105.1 249.3L105.6 248.7L106.1 249.1L106.6 249.2L107.1 249.2L107.6 249.2L108.1 249.2L108.6 249.1L109.1 248.8L109.6 249.0L110.1 249.2L110.6 249.2L111.1 249.1L111.6 248.8L112.1 249.4L112.6 249.4L113.1 249.3L113.6 249.0L114.1 248.7L114.6 248.7L115.1 248.7L115.6 248.0L116.1 247.9L116.6 247.8L117.1 247.4L117.6 247.7L118.1 247.8L118.6 247.6L119.1 247.0L119.6 247.4L120.1 247.3L120.6 247.4L121.1 246.9L121.6 247.0L122.1 246.7L122.6 246.5L123.1 246.7L123.6 246.0L124.1 246.0L124.6 245.9L125.1 245.9L125.6 246.3L126.1 245.6L126.6 245.3L127.1 244.8L127.6 244.6L128.1 244.7L128.6 245.1L129.1 244.7L129.6 244.2L130.1 244.6L130.6 244.4L131.1 244.2L131.6 244.1L132.1 243.3L132.6 243.6L133.1 243.4L133.6 243.6L134.1 243.0L134.6 240.9L135.1 239.1L135.6 239.4L136.1 237.2L136.6 234.5L137.1 233.4L137.6 229.7L138.1 224.4L138.6 221.8L139.1 220.6L139.6 223.7L140.1 222.5L140.6 216.5L141.1 211.2L141.6 213.2L142.1 219.6L142.6 222.7L143.1 228.9L143.6 229.4L144.1 225.5L144.6 227.6L145.1 229.2L145.6 229.0L146.1 232.8L146.6 236.7L147.1 238.7L147.6 240.4L148.1 241.3L148.6 242.8L149.1 245.4L149.6 246.2L150.1 247.2L150.6 247.5L151.1 248.2L151.6 248.3L152.1 248.4L152.6 248.5L153.1 248.9L153.6 248.9L154.1 249.0L154.6 249.0L155.1 249.1L155.6 249.1L156.1 249.1L156.3 249.8Z" fill="#141414"/>
<path d="M157.7 249.8L157.7 249.0L158.2 249.5L158.7 249.3L159.2 249.4L159.7 249.2L160.2 249.4L160.7 249.6L161.2 249.3L161.7 249.3L162.2 249.4L162.7 249.3L163.2 249.5L163.7 249.4L164.2 249.6L164.7 249.4L165.2 249.5L165.7 249.5L166.2 249.4L166.7 249.6L167.2 249.5L167.7 249.3L168.2 249.1L168.7 249.2L169.2 249.4L169.7 249.2L170.2 249.5L170.7 249.5L171.2 249.2L171.7 249.0L172.2 249.4L172.7 249.6L173.2 249.2L173.7 249.4L174.2 249.4L174.7 249.2L175.2 249.4L175.7 249.6L176.2 249.4L176.7 249.3L177.2 249.1L177.7 249.5L178.2 249.1L178.7 249.3L179.2 249.2L179.7 249.1L180.2 249.0L180.7 248.8L181.2 248.5L181.7 247.9L182.2 248.3L182.7 248.3L183.2 248.1L183.7 247.3L184.2 248.2L184.7 247.9L185.2 247.8L185.7 247.9L186.2 247.8L186.7 247.8L187.2 247.9L187.7 248.2L188.2 247.8L188.7 247.2L189.2 247.2L189.7 247.2L190.2 246.7L190.7 245.9L191.2 246.5L191.7 246.3L192.2 245.6L192.7 245.6L193.2 245.4L193.7 245.4L194.2 245.7L194.7 245.6L195.2 245.1L195.7 246.1L196.2 245.7L196.7 245.7L197.2 245.1L197.7 245.0L198.2 244.4L198.7 245.3L199.2 246.0L199.7 244.4L200.2 243.7L200.7 243.1L201.2 243.0L201.7 243.3L202.2 244.1L202.7 242.9L203.2 241.0L203.7 238.8L204.2 238.4L204.7 238.5L205.2 239.0L205.7 238.1L206.2 231.6L206.7 229.7L207.2 229.8L207.7 232.6L208.2 230.4L208.7 231.2L209.2 234.2L209.7 232.6L210.2 231.0L210.7 232.5L211.2 233.5L211.7 235.6L212.2 238.3L212.7 239.0L213.2 238.5L213.7 241.2L214.2 242.9L214.7 243.1L215.2 243.6L215.6 249.8Z" fill="#141414"/>
<path d="M218.9 249.8L218.9 249.5L219.4 249.4L219.9 249.4L220.4 249.4L220.9 249.3L221.4 249.2L221.9 249.3L222.4 249.2L222.9 249.4L223.4 249.5L223.9 249.2L224.4 249.5L224.9 249.3L225.4 249.5L225.9 249.1L226.4 249.2L226.9 249.3L227.4 249.2L227.9 248.3L228.4 248.9L228.9 249.2L229.4 249.0L229.9 249.0L230.4 248.6L230.9 248.5L231.4 248.5L231.9 247.9L232.4 247.8L232.9 247.3L233.4 246.7L233.9 246.5L234.4 246.4L234.9 246.1L235.4 245.4L235.9 244.6L236.4 244.7L236.9 244.2L237.4 243.7L237.9 243.6L238.4 242.8L238.9 243.3L239.4 243.0L239.9 243.2L240.4 243.6L240.9 242.6L241.4 241.2L241.9 241.0L242.4 241.1L242.9 239.9L243.4 241.3L243.9 238.4L244.4 237.0L244.9 238.3L245.4 237.8L245.9 236.3L246.4 236.3L246.9 237.8L247.4 239.0L247.9 237.6L248.4 236.9L248.9 237.3L249.4 237.9L249.9 238.8L250.4 239.8L250.9 237.2L251.4 235.6L251.9 235.4L252.4 237.0L252.9 238.5L253.4 239.7L253.9 239.0L254.4 238.3L254.9 239.2L255.4 237.8L255.9 239.2L256.4 240.5L256.9 241.4L257.4 240.6L257.9 241.1L258.4 243.7L258.9 244.6L259.4 243.9L259.9 244.5L260.4 244.9L260.9 244.7L261.4 245.1L261.9 245.9L262.4 247.1L262.9 247.1L263.4 247.2L263.9 247.9L264.4 248.1L264.9 247.8L265.4 248.4L265.9 248.7L266.4 248.4L266.9 248.8L267.4 249.0L267.9 249.0L268.4 248.7L268.9 249.0L269.4 249.1L269.9 248.5L270.4 248.5L270.9 248.6L271.4 249.0L271.9 248.9L272.4 248.8L272.9 249.2L273.4 249.3L273.9 249.2L274.4 249.0L274.9 249.4L275.4 249.3L275.9 248.9L276.2 249.8Z" fill="#141414"/>
<path d="M279.2 249.8L279.2 247.4L279.7 247.7L280.2 247.6L280.7 248.2L281.2 248.6L281.7 248.2L282.2 248.2L282.7 248.3L283.2 248.4L283.7 248.9L284.2 248.8L284.7 248.6L285.2 248.9L285.7 248.4L286.2 248.4L286.7 248.1L287.2 248.2L287.7 248.2L288.2 248.2L288.7 248.0L289.2 247.9L289.7 247.5L290.2 246.5L290.7 247.2L291.2 246.8L291.7 246.8L292.2 246.3L292.7 246.2L293.2 245.9L293.7 246.1L294.2 245.7L294.7 245.1L295.2 245.0L295.7 244.2L296.2 244.0L296.7 244.1L297.2 243.3L297.7 238.4L298.2 238.5L298.7 242.1L299.2 241.3L299.7 236.2L300.2 236.4L300.7 240.9L301.2 239.4L301.7 237.2L302.2 237.6L302.7 238.4L303.2 236.8L303.7 233.7L304.2 232.6L304.7 232.9L305.2 235.1L305.7 235.7L306.2 235.4L306.7 234.1L307.2 234.4L307.7 234.8L308.2 235.3L308.7 238.1L309.2 238.1L309.7 238.6L310.2 241.2L310.7 240.7L311.2 241.2L311.7 242.0L312.2 241.6L312.7 244.3L313.2 245.7L313.7 246.3L314.2 246.3L314.7 247.1L315.2 247.8L315.7 248.1L316.2 248.6L316.7 248.2L317.2 248.7L317.7 248.8L318.2 248.8L318.7 248.9L319.2 249.1L319.7 248.8L320.2 248.8L320.7 248.9L321.2 248.5L321.7 248.3L322.2 248.5L322.7 248.4L323.2 248.9L323.7 249.0L324.2 249.2L324.7 249.3L325.2 249.1L325.7 248.7L326.2 249.0L326.7 248.9L327.2 249.2L327.7 249.2L328.2 249.2L328.7 249.0L329.2 249.4L329.7 249.3L330.2 249.3L330.7 249.3L331.2 249.1L331.7 249.4L332.2 249.3L332.7 249.5L333.2 249.3L333.7 249.4L334.2 249.5L334.7 249.3L335.2 249.5L335.7 249.4L336.2 249.1L336.5 249.8Z" fill="#141414"/>
<path d="M339.5 249.8L339.5 249.5L340.0 249.5L340.5 249.3L341.0 249.1L341.5 249.0L342.0 249.4L342.5 249.2L343.0 249.5L343.5 249.4L344.0 249.3L344.5 249.5L345.0 249.3L345.5 249.3L346.0 249.5L346.5 249.4L347.0 249.3L347.5 249.4L348.0 249.6L348.5 249.5L349.0 249.6L349.5 249.2L350.0 249.5L350.5 249.6L351.0 249.4L351.5 249.3L352.0 249.5L352.5 249.0L353.0 249.3L353.5 249.5L354.0 249.4L354.5 249.4L355.0 249.4L355.5 249.2L356.0 249.2L356.5 248.8L357.0 249.4L357.5 249.1L358.0 249.6L358.5 249.5L359.0 249.3L359.5 249.4L360.0 249.2L360.5 249.0L361.0 248.5L361.5 248.6L362.0 248.6L362.5 247.8L363.0 247.7L363.5 247.5L364.0 247.0L364.5 246.9L365.0 246.7L365.5 246.3L366.0 245.6L366.5 244.9L367.0 243.8L367.5 244.1L368.0 245.2L368.5 246.0L369.0 246.0L369.5 246.1L370.0 246.2L370.5 246.2L371.0 246.4L371.5 246.7L372.0 247.3L372.5 247.1L373.0 247.4L373.5 247.0L374.0 247.3L374.5 247.1L375.0 246.5L375.5 246.0L376.0 245.9L376.5 244.6L377.0 244.3L377.5 244.6L378.0 243.3L378.5 243.0L379.0 242.8L379.5 240.2L380.0 240.2L380.5 240.9L381.0 237.7L381.5 234.9L382.0 235.3L382.5 230.2L383.0 227.4L383.5 228.5L384.0 229.9L384.5 229.0L385.0 228.1L385.5 229.3L386.0 233.0L386.5 235.1L387.0 233.7L387.5 234.8L388.0 237.0L388.5 240.4L389.0 243.0L389.5 242.7L390.0 244.0L390.5 245.7L391.0 246.8L391.5 247.6L392.0 248.2L392.5 248.5L393.0 248.7L393.5 248.5L394.0 248.8L394.5 248.7L395.0 248.8L395.5 249.2L396.0 248.9L396.5 249.1L397.0 249.3L397.3 249.8Z" fill="#141414"/>
<path d="M400.3 249.8L400.3 249.5L400.8 249.5L401.3 249.5L401.8 249.0L402.3 249.6L402.8 249.4L403.3 249.3L403.8 249.3L404.3 249.1L404.8 249.1L405.3 249.0L405.8 249.5L406.3 249.4L406.8 249.4L407.3 249.3L407.8 249.3L408.3 249.5L408.8 249.5L409.3 249.2L409.8 249.2L410.3 249.0L410.8 249.4L411.3 249.1L411.8 248.9L412.3 249.1L412.8 248.8L413.3 248.4L413.8 248.1L414.3 247.9L414.8 247.9L415.3 248.1L415.8 247.7L416.3 247.1L416.8 246.0L417.3 245.6L417.8 245.7L418.3 245.3L418.8 245.5L419.3 245.4L419.8 244.5L420.3 244.8L420.8 245.6L421.3 246.0L421.8 245.5L422.3 244.2L422.8 243.3L423.3 243.4L423.8 242.7L424.3 241.7L424.8 241.8L425.3 242.6L425.8 242.4L426.3 241.6L426.8 240.3L427.3 240.2L427.8 241.9L428.3 242.6L428.8 240.7L429.3 240.2L429.8 240.3L430.3 240.0L430.8 240.5L431.3 239.8L431.8 241.0L432.3 241.1L432.8 240.2L433.3 239.8L433.8 241.8L434.3 241.9L434.8 239.8L435.3 239.7L435.8 240.1L436.3 239.3L436.8 237.4L437.3 237.3L437.8 240.9L438.3 242.1L438.8 242.3L439.3 242.5L439.8 242.4L440.3 243.2L440.8 241.9L441.3 240.7L441.8 242.3L442.3 242.5L442.8 241.9L443.3 242.9L443.8 243.6L444.3 243.7L444.8 244.3L445.3 244.0L445.8 244.2L446.3 243.3L446.8 242.9L447.3 244.1L447.8 244.4L448.3 243.7L448.8 242.1L449.3 243.0L449.8 243.9L450.3 244.9L450.8 245.6L451.3 245.2L451.8 246.1L452.3 246.6L452.8 246.6L453.3 247.0L453.8 246.9L454.3 247.2L454.8 247.5L455.3 247.8L455.8 248.1L456.3 248.5L456.8 249.0L457.3 249.1L457.7 249.8Z" fill="#141414"/>
<path d="M460.7 249.8L460.7 249.3L461.2 249.1L461.7 249.5L462.2 248.8L462.7 249.3L463.2 249.4L463.7 249.0L464.2 249.3L464.7 249.4L465.2 249.5L465.7 249.4L466.2 249.4L466.7 249.5L467.2 249.0L467.7 249.4L468.2 249.2L468.7 249.2L469.2 249.4L469.7 249.5L470.2 249.1L470.7 249.2L471.2 249.3L471.7 249.4L472.2 249.0L472.7 249.4L473.2 249.1L473.7 249.0L474.2 249.2L474.7 249.0L475.2 249.1L475.7 248.8L476.2 248.9L476.7 248.9L477.2 249.1L477.7 248.6L478.2 248.3L478.7 248.3L479.2 248.3L479.7 248.3L480.2 248.3L480.7 247.8L481.2 247.9L481.7 247.7L482.2 246.9L482.7 246.6L483.2 246.7L483.7 246.4L484.2 245.6L484.7 245.0L485.2 243.8L485.7 245.0L486.2 245.1L486.7 244.0L487.2 242.3L487.7 242.2L488.2 241.9L488.7 241.1L489.2 241.3L489.7 241.6L490.2 242.0L490.7 241.4L491.2 240.2L491.7 241.4L492.2 241.1L492.7 241.1L493.2 240.8L493.7 239.0L494.2 240.0L494.7 241.0L495.2 240.1L495.7 238.7L496.2 237.3L496.7 238.8L497.2 238.9L497.7 237.8L498.2 238.5L498.7 239.7L499.2 240.6L499.7 238.3L500.2 239.2L500.7 237.9L501.2 237.9L501.7 240.5L502.2 239.5L502.7 240.8L503.2 241.3L503.7 240.1L504.2 240.0L504.7 241.8L505.2 243.7L505.7 243.5L506.2 243.7L506.7 243.4L507.2 243.8L507.7 243.9L508.2 242.2L508.7 243.0L509.2 244.8L509.7 246.3L510.2 246.2L510.7 247.0L511.2 247.4L511.7 247.7L512.2 248.2L512.7 248.5L513.2 247.9L513.7 248.5L514.2 248.8L514.7 248.9L515.2 249.0L515.7 249.2L516.2 249.0L516.7 248.8L517.2 249.0L517.7 249.1L517.9 249.8Z" fill="#141414"/>
<path d="M37.6 199.3H518.6 M37.6 249.5H518.6" stroke="#111" stroke-width="1.1" fill="none"/>
<path d="M216.3 152.3V199.6M216.3 201.9V249.8M278.5 152.3V199.6M278.5 201.9V249.8M337.2 152.3V199.6M337.2 201.9V249.8M398.0 152.3V199.6M398.0 201.9V249.8M458.4 152.3V199.6M458.4 201.9V249.8" stroke="#8a8a8a" stroke-width="1.1" fill="none"/>
<path d="M37.6 151.8V199.8M37.6 201.4V250.0M96.9 151.8V199.8M96.9 201.4V250.0M157.0 151.8V199.8M157.0 201.4V250.0M218.2 151.8V199.8M218.2 201.4V250.0M276.9 151.8V199.8M276.9 201.4V250.0M338.8 151.8V199.8M338.8 201.4V250.0M399.6 151.8V199.8M399.6 201.4V250.0M460.0 151.8V199.8M460.0 201.4V250.0M518.6 151.8V199.8M518.6 201.4V250.0M37.0 152.3H519.2M37.0 201.9H519.2" stroke="#555" stroke-width="1.3" fill="none"/>
<text x="59.0" y="149.4" font-size="10.80" font-weight="bold" text-anchor="start" fill="#111" stroke="#111" stroke-width="0.25">CD1a</text>
<text x="116.8" y="149.4" font-size="10.80" font-weight="bold" text-anchor="start" fill="#111" stroke="#111" stroke-width="0.25">CD40</text>
<text x="176.0" y="149.4" font-size="10.80" font-weight="bold" text-anchor="start" fill="#111" stroke="#111" stroke-width="0.25">CD54</text>
<text x="234.8" y="149.4" font-size="10.80" font-weight="bold" text-anchor="start" fill="#111" stroke="#111" stroke-width="0.25">CD80</text>
<text x="291.0" y="149.4" font-size="10.80" font-weight="bold" text-anchor="start" fill="#111" stroke="#111" stroke-width="0.25">CD83</text>
<text x="354.0" y="149.4" font-size="10.80" font-weight="bold" text-anchor="start" fill="#111" stroke="#111" stroke-width="0.25">CD86</text>
<text x="404.6" y="149.4" font-size="10.80" font-weight="bold" text-anchor="start" fill="#111" stroke="#111" stroke-width="0.25">HLA-ABC</text>
<text x="466.6" y="149.4" font-size="10.80" font-weight="bold" text-anchor="start" fill="#111" stroke="#111" stroke-width="0.25">HLA-DR</text>
<text x="3.2" y="145.9" font-size="19.00" font-weight="bold" text-anchor="start" fill="#000" stroke="#000" stroke-width="0.25">B</text>
<text x="19.2" y="181.7" font-size="10.30" font-weight="bold" text-anchor="start" fill="#111" stroke="#111" stroke-width="0.25">HD</text>
<text x="13.6" y="228.7" font-size="10.30" font-weight="bold" text-anchor="start" fill="#111" stroke="#111" stroke-width="0.25">MM</text>
<text x="61.2" y="171.6" font-size="9.00" font-weight="normal" text-anchor="start" fill="#222" stroke="#222" stroke-width="0.2">1195</text>
<text x="84.7" y="172.5" font-family="'DejaVu Sans', sans-serif" font-size="8.0" text-anchor="middle" fill="#555" stroke="#555" stroke-width="0.80">*</text>
<text x="108.4" y="171.6" font-size="9.00" font-weight="normal" text-anchor="start" fill="#222" stroke="#222" stroke-width="0.2">1249</text>
<text x="132.3" y="172.5" font-family="'DejaVu Sans', sans-serif" font-size="8.0" text-anchor="middle" fill="#555" stroke="#555" stroke-width="0.80">*</text>
<text x="179.0" y="171.6" font-size="9.00" font-weight="normal" text-anchor="start" fill="#222" stroke="#222" stroke-width="0.2">2378</text>
<text x="241.8" y="171.6" font-size="9.00" font-weight="normal" text-anchor="start" fill="#222" stroke="#222" stroke-width="0.2">466</text>
<text x="260.9" y="172.5" font-family="'DejaVu Sans', sans-serif" font-size="8.0" text-anchor="middle" fill="#555" stroke="#555" stroke-width="0.80">*</text>
<text x="304.2" y="170.3" font-size="9.00" font-weight="normal" text-anchor="start" fill="#222" stroke="#222" stroke-width="0.2">102</text>
<text x="359.4" y="171.6" font-size="9.00" font-weight="normal" text-anchor="start" fill="#222" stroke="#222" stroke-width="0.2">1289</text>
<text x="420.6" y="171.6" font-size="9.00" font-weight="normal" text-anchor="start" fill="#222" stroke="#222" stroke-width="0.2">2319</text>
<text x="445.9" y="172.5" font-family="'DejaVu Sans', sans-serif" font-size="8.0" text-anchor="middle" fill="#555" stroke="#555" stroke-width="0.80">*</text>
<text x="482.8" y="171.6" font-size="9.00" font-weight="normal" text-anchor="start" fill="#222" stroke="#222" stroke-width="0.2">1394</text>
<text x="507.5" y="172.5" font-family="'DejaVu Sans', sans-serif" font-size="8.0" text-anchor="middle" fill="#555" stroke="#555" stroke-width="0.80">*</text>
<text x="64.7" y="219.7" font-size="9.00" font-weight="normal" text-anchor="start" fill="#222" stroke="#222" stroke-width="0.2">165</text>
<text x="109.6" y="219.7" font-size="9.00" font-weight="normal" text-anchor="start" fill="#222" stroke="#222" stroke-width="0.2">855</text>
<text x="179.0" y="219.7" font-size="9.00" font-weight="normal" text-anchor="start" fill="#222" stroke="#222" stroke-width="0.2">2753</text>
<text x="247.0" y="219.7" font-size="9.00" font-weight="normal" text-anchor="start" fill="#222" stroke="#222" stroke-width="0.2">191</text>
<text x="309.0" y="219.7" font-size="9.00" font-weight="normal" text-anchor="start" fill="#222" stroke="#222" stroke-width="0.2">72</text>
<text x="363.3" y="219.7" font-size="9.00" font-weight="normal" text-anchor="start" fill="#222" stroke="#222" stroke-width="0.2">1052</text>
<text x="424.8" y="219.7" font-size="9.00" font-weight="normal" text-anchor="start" fill="#222" stroke="#222" stroke-width="0.2">664</text>
<text x="486.4" y="219.7" font-size="9.00" font-weight="normal" text-anchor="start" fill="#222" stroke="#222" stroke-width="0.2">648</text>
<text x="0.2" y="276.0" font-size="19.00" font-weight="bold" text-anchor="start" fill="#000" stroke="#000" stroke-width="0.25">C</text>
<rect x="38.5" y="287.2" width="212.1" height="94.8" fill="none" stroke="#8a8a8a" stroke-width="1"/>
<text x="33.8" y="384.9" font-size="8.00" font-weight="normal" text-anchor="end" fill="#222" textLength="3.9" lengthAdjust="spacingAndGlyphs">0</text>
<text x="33.8" y="365.8" font-size="8.00" font-weight="normal" text-anchor="end" fill="#222" textLength="15.8" lengthAdjust="spacingAndGlyphs">1000</text>
<text x="33.8" y="346.7" font-size="8.00" font-weight="normal" text-anchor="end" fill="#222" textLength="15.8" lengthAdjust="spacingAndGlyphs">2000</text>
<text x="33.8" y="327.5" font-size="8.00" font-weight="normal" text-anchor="end" fill="#222" textLength="15.8" lengthAdjust="spacingAndGlyphs">3000</text>
<text x="33.8" y="308.4" font-size="8.00" font-weight="normal" text-anchor="end" fill="#222" textLength="15.8" lengthAdjust="spacingAndGlyphs">4000</text>
<text x="33.8" y="289.3" font-size="8.00" font-weight="normal" text-anchor="end" fill="#222" textLength="15.8" lengthAdjust="spacingAndGlyphs">5000</text>
<text transform="translate(13.0,331.2) rotate(-90)" font-size="10.2" font-weight="bold" text-anchor="middle" fill="#111">MFI</text>
<text x="69.5" y="284.6" font-size="9.60" font-weight="bold" text-anchor="middle" fill="#111" stroke="#111" stroke-width="0.25">CD1a</text>
<text x="128.0" y="284.6" font-size="9.60" font-weight="bold" text-anchor="middle" fill="#111" stroke="#111" stroke-width="0.25">CD40</text>
<text x="174.0" y="284.6" font-size="9.60" font-weight="bold" text-anchor="middle" fill="#111" stroke="#111" stroke-width="0.25">CD80</text>
<text x="225.0" y="284.6" font-size="9.60" font-weight="bold" text-anchor="middle" fill="#111" stroke="#111" stroke-width="0.25">HLA-DR</text>
<text x="55.2" y="392.7" font-size="8.80" font-weight="bold" text-anchor="middle" fill="#111" stroke="#111" stroke-width="0.25">HD</text>
<text x="74.2" y="392.7" font-size="8.80" font-weight="bold" text-anchor="middle" fill="#111" stroke="#111" stroke-width="0.25">MM</text>
<text x="108.0" y="392.7" font-size="8.80" font-weight="bold" text-anchor="middle" fill="#111" stroke="#111" stroke-width="0.25">HD</text>
<text x="126.4" y="392.7" font-size="8.80" font-weight="bold" text-anchor="middle" fill="#111" stroke="#111" stroke-width="0.25">MM</text>
<text x="161.3" y="392.7" font-size="8.80" font-weight="bold" text-anchor="middle" fill="#111" stroke="#111" stroke-width="0.25">HD</text>
<text x="179.6" y="392.7" font-size="8.80" font-weight="bold" text-anchor="middle" fill="#111" stroke="#111" stroke-width="0.25">MM</text>
<text x="214.3" y="392.7" font-size="8.80" font-weight="bold" text-anchor="middle" fill="#111" stroke="#111" stroke-width="0.25">HD</text>
<text x="232.6" y="392.7" font-size="8.80" font-weight="bold" text-anchor="middle" fill="#111" stroke="#111" stroke-width="0.25">MM</text>
<circle cx="56.0" cy="339.1" r="1.6" fill="#fff" fill-opacity="0.5" stroke="#1a1a1a" stroke-width="1.0"/>
<circle cx="56.0" cy="355.7" r="1.6" fill="#fff" fill-opacity="0.5" stroke="#1a1a1a" stroke-width="1.0"/>
<circle cx="56.0" cy="358.0" r="1.6" fill="#fff" fill-opacity="0.5" stroke="#1a1a1a" stroke-width="1.0"/>
<circle cx="56.0" cy="360.5" r="1.6" fill="#fff" fill-opacity="0.5" stroke="#1a1a1a" stroke-width="1.0"/>
<circle cx="56.0" cy="362.8" r="1.6" fill="#fff" fill-opacity="0.5" stroke="#1a1a1a" stroke-width="1.0"/>
<circle cx="56.0" cy="366.5" r="1.6" fill="#fff" fill-opacity="0.5" stroke="#1a1a1a" stroke-width="1.0"/>
<circle cx="56.0" cy="369.3" r="1.6" fill="#fff" fill-opacity="0.5" stroke="#1a1a1a" stroke-width="1.0"/>
<circle cx="56.0" cy="372.0" r="1.6" fill="#fff" fill-opacity="0.5" stroke="#1a1a1a" stroke-width="1.0"/>
<circle cx="56.0" cy="374.8" r="1.6" fill="#fff" fill-opacity="0.5" stroke="#1a1a1a" stroke-width="1.0"/>
<circle cx="56.0" cy="376.7" r="1.6" fill="#fff" fill-opacity="0.5" stroke="#1a1a1a" stroke-width="1.0"/>
<circle cx="56.0" cy="378.9" r="1.6" fill="#fff" fill-opacity="0.5" stroke="#1a1a1a" stroke-width="1.0"/>
<circle cx="73.7" cy="363.7" r="1.6" fill="#fff" fill-opacity="0.5" stroke="#1a1a1a" stroke-width="1.0"/>
<circle cx="73.7" cy="364.6" r="1.6" fill="#fff" fill-opacity="0.5" stroke="#1a1a1a" stroke-width="1.0"/>
<circle cx="73.7" cy="372.0" r="1.6" fill="#fff" fill-opacity="0.5" stroke="#1a1a1a" stroke-width="1.0"/>
<circle cx="73.7" cy="374.8" r="1.6" fill="#fff" fill-opacity="0.5" stroke="#1a1a1a" stroke-width="1.0"/>
<circle cx="73.7" cy="376.7" r="1.6" fill="#fff" fill-opacity="0.5" stroke="#1a1a1a" stroke-width="1.0"/>
<circle cx="73.7" cy="378.5" r="1.6" fill="#fff" fill-opacity="0.5" stroke="#1a1a1a" stroke-width="1.0"/>
<circle cx="73.7" cy="379.8" r="1.6" fill="#fff" fill-opacity="0.5" stroke="#1a1a1a" stroke-width="1.0"/>
<circle cx="109.1" cy="347.6" r="1.6" fill="#fff" fill-opacity="0.5" stroke="#1a1a1a" stroke-width="1.0"/>
<circle cx="109.1" cy="350.7" r="1.6" fill="#fff" fill-opacity="0.5" stroke="#1a1a1a" stroke-width="1.0"/>
<circle cx="109.1" cy="357.6" r="1.6" fill="#fff" fill-opacity="0.5" stroke="#1a1a1a" stroke-width="1.0"/>
<circle cx="109.1" cy="360.9" r="1.6" fill="#fff" fill-opacity="0.5" stroke="#1a1a1a" stroke-width="1.0"/>
<circle cx="109.1" cy="368.3" r="1.6" fill="#fff" fill-opacity="0.5" stroke="#1a1a1a" stroke-width="1.0"/>
<circle cx="109.1" cy="371.0" r="1.6" fill="#fff" fill-opacity="0.5" stroke="#1a1a1a" stroke-width="1.0"/>
<circle cx="109.1" cy="373.5" r="1.6" fill="#fff" fill-opacity="0.5" stroke="#1a1a1a" stroke-width="1.0"/>
<circle cx="109.1" cy="375.7" r="1.6" fill="#fff" fill-opacity="0.5" stroke="#1a1a1a" stroke-width="1.0"/>
<circle cx="109.1" cy="377.6" r="1.6" fill="#fff" fill-opacity="0.5" stroke="#1a1a1a" stroke-width="1.0"/>
<circle cx="109.1" cy="378.9" r="1.6" fill="#fff" fill-opacity="0.5" stroke="#1a1a1a" stroke-width="1.0"/>
<circle cx="126.7" cy="349.8" r="1.6" fill="#fff" fill-opacity="0.5" stroke="#1a1a1a" stroke-width="1.0"/>
<circle cx="126.7" cy="356.3" r="1.6" fill="#fff" fill-opacity="0.5" stroke="#1a1a1a" stroke-width="1.0"/>
<circle cx="126.7" cy="362.8" r="1.6" fill="#fff" fill-opacity="0.5" stroke="#1a1a1a" stroke-width="1.0"/>
<circle cx="126.7" cy="365.0" r="1.6" fill="#fff" fill-opacity="0.5" stroke="#1a1a1a" stroke-width="1.0"/>
<circle cx="126.7" cy="367.4" r="1.6" fill="#fff" fill-opacity="0.5" stroke="#1a1a1a" stroke-width="1.0"/>
<circle cx="126.7" cy="369.8" r="1.6" fill="#fff" fill-opacity="0.5" stroke="#1a1a1a" stroke-width="1.0"/>
<circle cx="126.7" cy="373.5" r="1.6" fill="#fff" fill-opacity="0.5" stroke="#1a1a1a" stroke-width="1.0"/>
<circle cx="126.7" cy="376.7" r="1.6" fill="#fff" fill-opacity="0.5" stroke="#1a1a1a" stroke-width="1.0"/>
<circle cx="126.7" cy="378.5" r="1.6" fill="#fff" fill-opacity="0.5" stroke="#1a1a1a" stroke-width="1.0"/>
<circle cx="126.7" cy="380.4" r="1.6" fill="#fff" fill-opacity="0.5" stroke="#1a1a1a" stroke-width="1.0"/>
<circle cx="161.9" cy="359.4" r="1.6" fill="#fff" fill-opacity="0.5" stroke="#1a1a1a" stroke-width="1.0"/>
<circle cx="161.9" cy="364.3" r="1.6" fill="#fff" fill-opacity="0.5" stroke="#1a1a1a" stroke-width="1.0"/>
<circle cx="161.9" cy="369.8" r="1.6" fill="#fff" fill-opacity="0.5" stroke="#1a1a1a" stroke-width="1.0"/>
<circle cx="161.9" cy="371.1" r="1.6" fill="#fff" fill-opacity="0.5" stroke="#1a1a1a" stroke-width="1.0"/>
<circle cx="161.9" cy="372.4" r="1.6" fill="#fff" fill-opacity="0.5" stroke="#1a1a1a" stroke-width="1.0"/>
<circle cx="161.9" cy="373.9" r="1.6" fill="#fff" fill-opacity="0.5" stroke="#1a1a1a" stroke-width="1.0"/>
<circle cx="161.9" cy="375.7" r="1.6" fill="#fff" fill-opacity="0.5" stroke="#1a1a1a" stroke-width="1.0"/>
<circle cx="161.9" cy="377.6" r="1.6" fill="#fff" fill-opacity="0.5" stroke="#1a1a1a" stroke-width="1.0"/>
<circle cx="161.9" cy="379.0" r="1.6" fill="#fff" fill-opacity="0.5" stroke="#1a1a1a" stroke-width="1.0"/>
<circle cx="179.5" cy="353.0" r="1.6" fill="#fff" fill-opacity="0.5" stroke="#1a1a1a" stroke-width="1.0"/>
<circle cx="179.5" cy="370.2" r="1.6" fill="#fff" fill-opacity="0.5" stroke="#1a1a1a" stroke-width="1.0"/>
<circle cx="179.5" cy="373.9" r="1.6" fill="#fff" fill-opacity="0.5" stroke="#1a1a1a" stroke-width="1.0"/>
<circle cx="179.5" cy="375.7" r="1.6" fill="#fff" fill-opacity="0.5" stroke="#1a1a1a" stroke-width="1.0"/>
<circle cx="179.5" cy="378.5" r="1.6" fill="#fff" fill-opacity="0.5" stroke="#1a1a1a" stroke-width="1.0"/>
<circle cx="179.5" cy="380.0" r="1.6" fill="#fff" fill-opacity="0.5" stroke="#1a1a1a" stroke-width="1.0"/>
<circle cx="215.2" cy="303.1" r="1.6" fill="#fff" fill-opacity="0.5" stroke="#1a1a1a" stroke-width="1.0"/>
<circle cx="215.2" cy="323.0" r="1.6" fill="#fff" fill-opacity="0.5" stroke="#1a1a1a" stroke-width="1.0"/>
<circle cx="215.2" cy="328.0" r="1.6" fill="#fff" fill-opacity="0.5" stroke="#1a1a1a" stroke-width="1.0"/>
<circle cx="215.2" cy="331.3" r="1.6" fill="#fff" fill-opacity="0.5" stroke="#1a1a1a" stroke-width="1.0"/>
<circle cx="215.2" cy="337.4" r="1.6" fill="#fff" fill-opacity="0.5" stroke="#1a1a1a" stroke-width="1.0"/>
<circle cx="215.2" cy="340.6" r="1.6" fill="#fff" fill-opacity="0.5" stroke="#1a1a1a" stroke-width="1.0"/>
<circle cx="215.2" cy="342.8" r="1.6" fill="#fff" fill-opacity="0.5" stroke="#1a1a1a" stroke-width="1.0"/>
<circle cx="215.2" cy="344.6" r="1.6" fill="#fff" fill-opacity="0.5" stroke="#1a1a1a" stroke-width="1.0"/>
<circle cx="215.2" cy="351.3" r="1.6" fill="#fff" fill-opacity="0.5" stroke="#1a1a1a" stroke-width="1.0"/>
<circle cx="215.2" cy="355.4" r="1.6" fill="#fff" fill-opacity="0.5" stroke="#1a1a1a" stroke-width="1.0"/>
<circle cx="232.3" cy="343.0" r="1.6" fill="#fff" fill-opacity="0.5" stroke="#1a1a1a" stroke-width="1.0"/>
<circle cx="232.3" cy="347.0" r="1.6" fill="#fff" fill-opacity="0.5" stroke="#1a1a1a" stroke-width="1.0"/>
<circle cx="232.3" cy="348.9" r="1.6" fill="#fff" fill-opacity="0.5" stroke="#1a1a1a" stroke-width="1.0"/>
<circle cx="232.3" cy="353.5" r="1.6" fill="#fff" fill-opacity="0.5" stroke="#1a1a1a" stroke-width="1.0"/>
<circle cx="232.3" cy="355.7" r="1.6" fill="#fff" fill-opacity="0.5" stroke="#1a1a1a" stroke-width="1.0"/>
<circle cx="232.3" cy="358.1" r="1.6" fill="#fff" fill-opacity="0.5" stroke="#1a1a1a" stroke-width="1.0"/>
<circle cx="232.3" cy="360.0" r="1.6" fill="#fff" fill-opacity="0.5" stroke="#1a1a1a" stroke-width="1.0"/>
<circle cx="232.3" cy="369.3" r="1.6" fill="#fff" fill-opacity="0.5" stroke="#1a1a1a" stroke-width="1.0"/>
<path d="M51.8 366.5H60.2" stroke="#111" stroke-width="1.8"/>
<path d="M69.5 377.2H77.9" stroke="#111" stroke-width="1.8"/>
<path d="M104.9 369.3H113.3" stroke="#111" stroke-width="1.8"/>
<path d="M122.5 373.3H130.9" stroke="#111" stroke-width="1.8"/>
<path d="M157.7 373.0H166.1" stroke="#111" stroke-width="1.8"/>
<path d="M175.3 377.0H183.7" stroke="#111" stroke-width="1.8"/>
<path d="M211.0 339.8H219.4" stroke="#111" stroke-width="1.8"/>
<path d="M228.1 356.9H236.5" stroke="#111" stroke-width="1.8"/>
<path d="M57.4 299.2V297.4H77.4V299.2" stroke="#444" stroke-width="0.9" fill="none"/>
<text x="69.6" y="297.6" font-family="'DejaVu Sans', sans-serif" font-size="9.5" text-anchor="middle" fill="#444" stroke="#444" stroke-width="0.25">*</text>
<path d="M110.6 299.2V297.4H131.0V299.2" stroke="#444" stroke-width="0.9" fill="none"/>
<text x="122.1" y="297.6" font-family="'DejaVu Sans', sans-serif" font-size="9.5" text-anchor="middle" fill="#444" stroke="#444" stroke-width="0.25">*</text>
<path d="M163.4 299.2V297.4H183.7V299.2" stroke="#444" stroke-width="0.9" fill="none"/>
<text x="175.9" y="297.6" font-family="'DejaVu Sans', sans-serif" font-size="9.5" text-anchor="middle" fill="#444" stroke="#444" stroke-width="0.25">*</text>
<path d="M216.1 299.2V297.4H236.5V299.2" stroke="#444" stroke-width="0.9" fill="none"/>
<text x="230.1" y="297.6" font-family="'DejaVu Sans', sans-serif" font-size="9.5" text-anchor="middle" fill="#444" stroke="#444" stroke-width="0.25">*</text>
<defs>
<pattern id="ph" width="4" height="2.9" patternUnits="userSpaceOnUse"><rect width="4" height="2.9" fill="#fff"/><rect y="1" width="4" height="0.9" fill="#8e8e8e"/></pattern>
<pattern id="pv" width="2.1" height="4" patternUnits="userSpaceOnUse"><rect width="2.1" height="4" fill="#fff"/><rect x="0.6" width="0.9" height="4" fill="#777"/></pattern>
<pattern id="pd" width="2.2" height="2.2" patternUnits="userSpaceOnUse" patternTransform="rotate(-45)"><rect width="2.2" height="2.2" fill="#fff"/><rect width="2.2" height="1.1" fill="#333"/></pattern>
<pattern id="pg" width="1.6" height="4" patternUnits="userSpaceOnUse"><rect width="1.6" height="4" fill="#e2e2e2"/><rect x="0.3" width="0.7" height="4" fill="#999"/></pattern>
</defs>
<text x="266.6" y="273.8" font-size="19.00" font-weight="bold" text-anchor="start" fill="#000" stroke="#000" stroke-width="0.25">D</text>
<rect x="299.4" y="284.5" width="140.6" height="82.8" fill="none" stroke="#7a7a7a" stroke-width="1"/>
<text x="291.4" y="368.8" font-size="9.50" font-weight="normal" text-anchor="end" fill="#222">0</text>
<text x="291.4" y="357.0" font-size="9.50" font-weight="normal" text-anchor="end" fill="#222">10</text>
<text x="291.4" y="345.1" font-size="9.50" font-weight="normal" text-anchor="end" fill="#222">20</text>
<text x="291.4" y="333.3" font-size="9.50" font-weight="normal" text-anchor="end" fill="#222">30</text>
<text x="291.4" y="321.5" font-size="9.50" font-weight="normal" text-anchor="end" fill="#222">40</text>
<text x="291.4" y="309.7" font-size="9.50" font-weight="normal" text-anchor="end" fill="#222">50</text>
<text x="291.4" y="297.8" font-size="9.50" font-weight="normal" text-anchor="end" fill="#222">60</text>
<text x="291.4" y="286.0" font-size="9.50" font-weight="normal" text-anchor="end" fill="#222">70</text>
<path d="M296.4 367.3H299.4M296.4 355.5H299.4M296.4 343.6H299.4M296.4 331.8H299.4M296.4 320.0H299.4M296.4 308.2H299.4M296.4 296.3H299.4M296.4 284.5H299.4" stroke="#b0b0b0" stroke-width="0.8"/>
<text transform="translate(271.2,324.4) rotate(-90)" font-size="10.7" font-weight="bold" text-anchor="middle" fill="#111">CPM (× 10<tspan font-size="7" dy="-3.8">3</tspan><tspan dy="3.8">)</tspan></text>
<rect x="308.4" y="321.4" width="13.4" height="45.9" fill="url(#ph)" stroke="#333" stroke-width="0.9"/>
<path d="M315.1 321.4V314.0M311.9 314.0H318.3" stroke="#333" stroke-width="0.9" fill="none"/>
<rect x="321.8" y="338.4" width="13.2" height="28.9" fill="url(#pv)" stroke="#333" stroke-width="0.9"/>
<path d="M328.4 338.4V332.8M325.2 332.8H331.6" stroke="#333" stroke-width="0.9" fill="none"/>
<rect x="335.0" y="359.5" width="12.5" height="7.8" fill="#fff" stroke="#333" stroke-width="0.9"/>
<path d="M341.2 359.5V358.6M338.1 358.6H344.4" stroke="#333" stroke-width="0.9" fill="none"/>
<rect x="351.2" y="366.2" width="5.6" height="1.1" fill="#111"/>
<rect x="378.8" y="340.8" width="13.2" height="26.5" fill="url(#ph)" stroke="#333" stroke-width="0.9"/>
<path d="M385.4 340.8V336.2M382.2 336.2H388.6" stroke="#333" stroke-width="0.9" fill="none"/>
<rect x="392.0" y="354.5" width="12.5" height="12.8" fill="url(#pv)" stroke="#333" stroke-width="0.9"/>
<path d="M398.2 354.5V351.2M395.1 351.2H401.4" stroke="#333" stroke-width="0.9" fill="none"/>
<rect x="404.5" y="365.9" width="12.5" height="1.4" fill="#fff" stroke="#333" stroke-width="0.9"/>
<rect x="420.2" y="366.2" width="5.8" height="1.1" fill="#111"/>
<path d="M314.4 314.0V308.7H385.0V315.0" stroke="#444" stroke-width="0.9" fill="none"/>
<path d="M327.4 325.2V320.5H396.3V325.8" stroke="#444" stroke-width="0.9" fill="none"/>
<path d="M341.6 337.0V331.8H412.5V337.0" stroke="#444" stroke-width="0.9" fill="none"/>
<text x="365.0" y="309.4" font-family="'DejaVu Sans', sans-serif" font-size="8.5" text-anchor="middle" fill="#444" stroke="#444" stroke-width="0.25">*</text>
<text x="365.0" y="321.4" font-family="'DejaVu Sans', sans-serif" font-size="8.5" text-anchor="middle" fill="#444" stroke="#444" stroke-width="0.25">*</text>
<text x="365.0" y="333.2" font-family="'DejaVu Sans', sans-serif" font-size="8.5" text-anchor="middle" fill="#444" stroke="#444" stroke-width="0.25">*</text>
<rect x="320.3" y="289.9" width="4.8" height="4.2" rx="0.4" fill="url(#ph)" stroke="#222" stroke-width="0.8"/>
<rect x="320.2" y="298.0" width="5.4" height="4.8" rx="0.6" fill="#fff" stroke="#333" stroke-width="0.8"/>
<rect x="375.8" y="290.0" width="4.8" height="4.4" rx="0.4" fill="url(#pv)" stroke="#222" stroke-width="0.8"/>
<rect x="375.4" y="297.6" width="5.8" height="5.7" fill="#111"/>
<text x="328.4" y="294.9" font-size="8.30" font-weight="normal" text-anchor="start" fill="#222">10:1</text>
<text x="328.4" y="303.4" font-size="8.40" font-weight="normal" text-anchor="start" fill="#222">1000:1</text>
<text x="384.3" y="294.9" font-size="8.5" fill="#222">100:1 <tspan font-size="9.3">T/DC</tspan></text>
<text x="384.2" y="303.3" font-size="8.45" font-weight="normal" text-anchor="start" fill="#222">T cell alone</text>
<text x="328.7" y="385.8" font-size="10.00" font-weight="bold" text-anchor="start" fill="#111" textLength="12.4" lengthAdjust="spacingAndGlyphs" stroke="#111" stroke-width="0.25">HD</text>
<text x="396.4" y="385.8" font-size="10.00" font-weight="bold" text-anchor="start" fill="#111" textLength="14.9" lengthAdjust="spacingAndGlyphs" stroke="#111" stroke-width="0.25">MM</text>
<text x="1.8" y="424.4" font-size="19.00" font-weight="bold" text-anchor="start" fill="#000" stroke="#000" stroke-width="0.25">E</text>
<path d="M38.5 518.3V435.4H176.3V518.3H38.5" fill="none" stroke="#7a7a7a" stroke-width="1"/>
<text x="32.2" y="521.3" font-size="9.40" font-weight="normal" text-anchor="end" fill="#222">0</text>
<text x="32.2" y="500.6" font-size="9.40" font-weight="normal" text-anchor="end" fill="#222">10</text>
<text x="32.2" y="479.8" font-size="9.40" font-weight="normal" text-anchor="end" fill="#222">20</text>
<text x="32.2" y="459.1" font-size="9.40" font-weight="normal" text-anchor="end" fill="#222">30</text>
<text x="32.2" y="438.4" font-size="9.40" font-weight="normal" text-anchor="end" fill="#222">40</text>
<path d="M35.5 518.3H38.5M35.5 497.6H38.5M35.5 476.8H38.5M35.5 456.1H38.5M35.5 435.4H38.5M38.5 518.3V520.9M107.4 518.3V520.9M176.3 518.3V520.9" stroke="#7a7a7a" stroke-width="0.9"/>
<text transform="translate(15.6,479.5) rotate(-90)" font-size="10.7" font-weight="bold" text-anchor="middle" fill="#111">CPM (× 10<tspan font-size="7" dy="-3.8">3</tspan><tspan dy="3.8">)</tspan></text>
<rect x="47.6" y="475.0" width="12.9" height="43.3" fill="url(#pd)" stroke="#333" stroke-width="0.9"/>
<path d="M54.0 475.0V466.3M51.8 466.3H56.3" stroke="#333" stroke-width="0.9" fill="none"/>
<rect x="60.5" y="492.5" width="12.8" height="25.8" fill="url(#pg)" stroke="#333" stroke-width="0.9"/>
<path d="M66.9 492.5V481.8M64.6 481.8H69.2" stroke="#333" stroke-width="0.9" fill="none"/>
<rect x="73.3" y="510.5" width="13.0" height="7.8" fill="#fff" stroke="#333" stroke-width="0.9"/>
<path d="M79.8 510.5V506.8M77.5 506.8H82.1" stroke="#333" stroke-width="0.9" fill="none"/>
<rect x="86.0" y="516.1" width="12.7" height="2.5" fill="#111"/>
<rect x="116.3" y="495.5" width="13.2" height="22.8" fill="url(#pd)" stroke="#333" stroke-width="0.9"/>
<path d="M122.9 495.5V488.3M120.4 488.3H125.4" stroke="#333" stroke-width="0.9" fill="none"/>
<rect x="129.5" y="503.2" width="12.1" height="15.1" fill="url(#pg)" stroke="#333" stroke-width="0.9"/>
<path d="M135.6 503.2V495.8M133.1 495.8H138.1" stroke="#333" stroke-width="0.9" fill="none"/>
<rect x="141.6" y="511.2" width="12.9" height="7.1" fill="#fff" stroke="#333" stroke-width="0.9"/>
<path d="M148.1 511.2V507.5M145.6 507.5H150.6" stroke="#333" stroke-width="0.9" fill="none"/>
<rect x="154.3" y="516.1" width="12.7" height="2.5" fill="#111"/>
<path d="M51.3 466.3V463.5H120.8V469.7" stroke="#444" stroke-width="0.9" fill="none"/>
<path d="M65.4 481.8V478.3H136.6V484.4" stroke="#444" stroke-width="0.9" fill="none"/>
<text x="103.2" y="464.4" font-family="'DejaVu Sans', sans-serif" font-size="8.5" text-anchor="middle" fill="#444" stroke="#444" stroke-width="0.25">*</text>
<text x="103.8" y="479.2" font-family="'DejaVu Sans', sans-serif" font-size="8.5" text-anchor="middle" fill="#444" stroke="#444" stroke-width="0.25">*</text>
<rect x="53.0" y="441.9" width="4.1" height="4.5" fill="url(#pd)" stroke="#222" stroke-width="0.8"/>
<rect x="53.0" y="451.1" width="4.1" height="4.7" fill="#fff" stroke="#222" stroke-width="0.8"/>
<rect x="108.9" y="442.2" width="4.1" height="4.4" fill="url(#pg)" stroke="#222" stroke-width="0.8"/>
<rect x="108.5" y="450.7" width="4.9" height="5.5" fill="#111"/>
<text x="61.2" y="447.0" font-size="7.80" font-weight="normal" text-anchor="start" fill="#222" textLength="14.2" lengthAdjust="spacingAndGlyphs">10:1</text>
<text x="61.2" y="456.3" font-size="7.80" font-weight="normal" text-anchor="start" fill="#222" textLength="23.3" lengthAdjust="spacingAndGlyphs">1000:1</text>
<text x="116.6" y="447.0" font-size="7.7" fill="#222">100:1 <tspan font-size="9.0">T/DC</tspan></text>
<text x="116.6" y="456.3" font-size="7.90" font-weight="normal" text-anchor="start" fill="#222">T cell alone</text>
<text x="66.3" y="537.9" font-size="9.90" font-weight="bold" text-anchor="start" fill="#111" textLength="13.2" lengthAdjust="spacingAndGlyphs" stroke="#111" stroke-width="0.25">HD</text>
<text x="133.7" y="537.9" font-size="9.90" font-weight="bold" text-anchor="start" fill="#111" textLength="15.8" lengthAdjust="spacingAndGlyphs" stroke="#111" stroke-width="0.25">MM</text>
</svg>
</body></html>
